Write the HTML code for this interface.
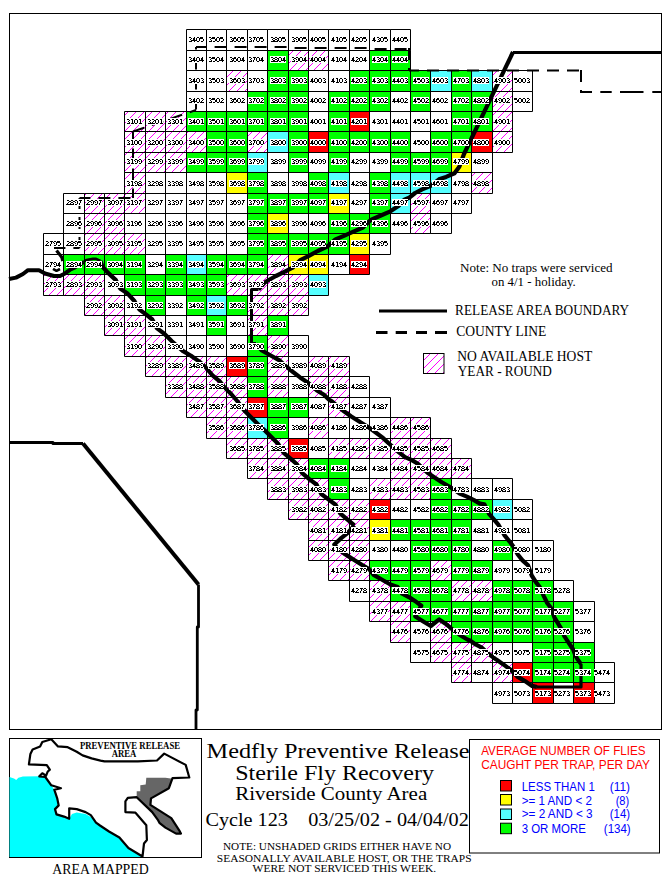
<!DOCTYPE html>
<html><head><meta charset="utf-8"><title>Medfly Preventive Release - Sterile Fly Recovery</title>
<style>html,body{margin:0;padding:0;background:#fff}body{width:670px;height:888px;position:relative;overflow:hidden}</style>
</head><body>
<svg width="670" height="888" viewBox="0 0 670 888" style="position:absolute;left:0;top:0">
<defs>
<pattern id="hatch" patternUnits="userSpaceOnUse" width="8" height="8">
<rect width="8" height="8" fill="#fff"/>
<path d="M0 7h1v1h-1zM1 6h1v1h-1zM2 5h1v1h-1zM3 4h1v1h-1zM4 3h1v1h-1zM5 2h1v1h-1zM6 1h1v1h-1zM7 0h1v1h-1z" fill="#ff00ff" shape-rendering="crispEdges"/>
</pattern>
<filter id="crisp" filterUnits="userSpaceOnUse" x="0" y="0" width="670" height="888" color-interpolation-filters="sRGB">
<feComponentTransfer><feFuncA type="discrete" tableValues="0 1 1"/></feComponentTransfer>
</filter>
</defs>
<rect x="9.5" y="13.5" width="652" height="716" fill="none" stroke="#000"/>
<rect x="186" y="29" width="20" height="21" fill="#fff"/>
<rect x="206" y="29" width="20" height="21" fill="#fff"/>
<rect x="226" y="29" width="21" height="21" fill="#fff"/>
<rect x="247" y="29" width="20" height="21" fill="#fff"/>
<rect x="267" y="29" width="21" height="21" fill="#fff"/>
<rect x="288" y="29" width="20" height="21" fill="#fff"/>
<rect x="308" y="29" width="20" height="21" fill="#fff"/>
<rect x="328" y="29" width="21" height="21" fill="#fff"/>
<rect x="349" y="29" width="20" height="21" fill="#fff"/>
<rect x="369" y="29" width="21" height="21" fill="#fff"/>
<rect x="390" y="29" width="20" height="21" fill="#fff"/>
<rect x="186" y="50" width="20" height="20" fill="#fff"/>
<rect x="206" y="50" width="20" height="20" fill="#fff"/>
<rect x="226" y="50" width="21" height="20" fill="#fff"/>
<rect x="247" y="50" width="20" height="20" fill="#fff"/>
<rect x="267" y="50" width="21" height="20" fill="#00ff00"/>
<rect x="288" y="50" width="20" height="20" fill="url(#hatch)"/>
<rect x="308" y="50" width="20" height="20" fill="url(#hatch)"/>
<rect x="328" y="50" width="21" height="20" fill="#fff"/>
<rect x="349" y="50" width="20" height="20" fill="#fff"/>
<rect x="369" y="50" width="21" height="20" fill="#00ff00"/>
<rect x="390" y="50" width="20" height="20" fill="#00ff00"/>
<rect x="186" y="70" width="20" height="21" fill="#fff"/>
<rect x="206" y="70" width="20" height="21" fill="#fff"/>
<rect x="226" y="70" width="21" height="21" fill="url(#hatch)"/>
<rect x="247" y="70" width="20" height="21" fill="#fff"/>
<rect x="267" y="70" width="21" height="21" fill="#00ff00"/>
<rect x="288" y="70" width="20" height="21" fill="#00ff00"/>
<rect x="308" y="70" width="20" height="21" fill="#fff"/>
<rect x="328" y="70" width="21" height="21" fill="#fff"/>
<rect x="349" y="70" width="20" height="21" fill="#00ff00"/>
<rect x="369" y="70" width="21" height="21" fill="#00ff00"/>
<rect x="390" y="70" width="20" height="21" fill="#00ff00"/>
<rect x="410" y="70" width="20" height="21" fill="#00ff00"/>
<rect x="430" y="70" width="21" height="21" fill="#55ffff"/>
<rect x="451" y="70" width="20" height="21" fill="#00ff00"/>
<rect x="471" y="70" width="21" height="21" fill="#55ffff"/>
<rect x="492" y="70" width="20" height="21" fill="url(#hatch)"/>
<rect x="512" y="70" width="20" height="21" fill="#fff"/>
<rect x="186" y="91" width="20" height="20" fill="#fff"/>
<rect x="206" y="91" width="20" height="20" fill="#fff"/>
<rect x="226" y="91" width="21" height="20" fill="#fff"/>
<rect x="247" y="91" width="20" height="20" fill="#00ff00"/>
<rect x="267" y="91" width="21" height="20" fill="#00ff00"/>
<rect x="288" y="91" width="20" height="20" fill="#00ff00"/>
<rect x="308" y="91" width="20" height="20" fill="#fff"/>
<rect x="328" y="91" width="21" height="20" fill="#00ff00"/>
<rect x="349" y="91" width="20" height="20" fill="#00ff00"/>
<rect x="369" y="91" width="21" height="20" fill="#00ff00"/>
<rect x="390" y="91" width="20" height="20" fill="#fff"/>
<rect x="410" y="91" width="20" height="20" fill="#00ff00"/>
<rect x="430" y="91" width="21" height="20" fill="#fff"/>
<rect x="451" y="91" width="20" height="20" fill="#00ff00"/>
<rect x="471" y="91" width="21" height="20" fill="#00ff00"/>
<rect x="492" y="91" width="20" height="20" fill="url(#hatch)"/>
<rect x="512" y="91" width="20" height="20" fill="#fff"/>
<rect x="124" y="111" width="21" height="20" fill="url(#hatch)"/>
<rect x="145" y="111" width="20" height="20" fill="url(#hatch)"/>
<rect x="165" y="111" width="21" height="20" fill="url(#hatch)"/>
<rect x="186" y="111" width="20" height="20" fill="#00ff00"/>
<rect x="206" y="111" width="20" height="20" fill="#00ff00"/>
<rect x="226" y="111" width="21" height="20" fill="#00ff00"/>
<rect x="247" y="111" width="20" height="20" fill="#00ff00"/>
<rect x="267" y="111" width="21" height="20" fill="#00ff00"/>
<rect x="288" y="111" width="20" height="20" fill="#00ff00"/>
<rect x="308" y="111" width="20" height="20" fill="#fff"/>
<rect x="328" y="111" width="21" height="20" fill="#00ff00"/>
<rect x="349" y="111" width="20" height="20" fill="#ff0000"/>
<rect x="369" y="111" width="21" height="20" fill="#fff"/>
<rect x="390" y="111" width="20" height="20" fill="#fff"/>
<rect x="410" y="111" width="20" height="20" fill="#fff"/>
<rect x="430" y="111" width="21" height="20" fill="#fff"/>
<rect x="451" y="111" width="20" height="20" fill="#00ff00"/>
<rect x="471" y="111" width="21" height="20" fill="#00ff00"/>
<rect x="492" y="111" width="20" height="20" fill="url(#hatch)"/>
<rect x="124" y="131" width="21" height="21" fill="url(#hatch)"/>
<rect x="145" y="131" width="20" height="21" fill="url(#hatch)"/>
<rect x="165" y="131" width="21" height="21" fill="url(#hatch)"/>
<rect x="186" y="131" width="20" height="21" fill="url(#hatch)"/>
<rect x="206" y="131" width="20" height="21" fill="#00ff00"/>
<rect x="226" y="131" width="21" height="21" fill="#00ff00"/>
<rect x="247" y="131" width="20" height="21" fill="url(#hatch)"/>
<rect x="267" y="131" width="21" height="21" fill="#55ffff"/>
<rect x="288" y="131" width="20" height="21" fill="#00ff00"/>
<rect x="308" y="131" width="20" height="21" fill="#ff0000"/>
<rect x="328" y="131" width="21" height="21" fill="#00ff00"/>
<rect x="349" y="131" width="20" height="21" fill="#00ff00"/>
<rect x="369" y="131" width="21" height="21" fill="#00ff00"/>
<rect x="390" y="131" width="20" height="21" fill="#00ff00"/>
<rect x="410" y="131" width="20" height="21" fill="#fff"/>
<rect x="430" y="131" width="21" height="21" fill="#00ff00"/>
<rect x="451" y="131" width="20" height="21" fill="#00ff00"/>
<rect x="471" y="131" width="21" height="21" fill="#ff0000"/>
<rect x="492" y="131" width="20" height="21" fill="url(#hatch)"/>
<rect x="124" y="152" width="21" height="20" fill="url(#hatch)"/>
<rect x="145" y="152" width="20" height="20" fill="url(#hatch)"/>
<rect x="165" y="152" width="21" height="20" fill="url(#hatch)"/>
<rect x="186" y="152" width="20" height="20" fill="#00ff00"/>
<rect x="206" y="152" width="20" height="20" fill="#00ff00"/>
<rect x="226" y="152" width="21" height="20" fill="#00ff00"/>
<rect x="247" y="152" width="20" height="20" fill="#55ffff"/>
<rect x="267" y="152" width="21" height="20" fill="#fff"/>
<rect x="288" y="152" width="20" height="20" fill="#00ff00"/>
<rect x="308" y="152" width="20" height="20" fill="#fff"/>
<rect x="328" y="152" width="21" height="20" fill="#00ff00"/>
<rect x="349" y="152" width="20" height="20" fill="#fff"/>
<rect x="369" y="152" width="21" height="20" fill="#fff"/>
<rect x="390" y="152" width="20" height="20" fill="#00ff00"/>
<rect x="410" y="152" width="20" height="20" fill="#00ff00"/>
<rect x="430" y="152" width="21" height="20" fill="#00ff00"/>
<rect x="451" y="152" width="20" height="20" fill="#ffff00"/>
<rect x="471" y="152" width="21" height="20" fill="#fff"/>
<rect x="124" y="172" width="21" height="21" fill="url(#hatch)"/>
<rect x="145" y="172" width="20" height="21" fill="#fff"/>
<rect x="165" y="172" width="21" height="21" fill="#fff"/>
<rect x="186" y="172" width="20" height="21" fill="#fff"/>
<rect x="206" y="172" width="20" height="21" fill="#fff"/>
<rect x="226" y="172" width="21" height="21" fill="#ffff00"/>
<rect x="247" y="172" width="20" height="21" fill="#00ff00"/>
<rect x="267" y="172" width="21" height="21" fill="#fff"/>
<rect x="288" y="172" width="20" height="21" fill="#fff"/>
<rect x="308" y="172" width="20" height="21" fill="#00ff00"/>
<rect x="328" y="172" width="21" height="21" fill="#55ffff"/>
<rect x="349" y="172" width="20" height="21" fill="#fff"/>
<rect x="369" y="172" width="21" height="21" fill="#00ff00"/>
<rect x="390" y="172" width="20" height="21" fill="#55ffff"/>
<rect x="410" y="172" width="20" height="21" fill="#55ffff"/>
<rect x="430" y="172" width="21" height="21" fill="#55ffff"/>
<rect x="451" y="172" width="20" height="21" fill="#fff"/>
<rect x="471" y="172" width="21" height="21" fill="url(#hatch)"/>
<rect x="63" y="193" width="21" height="20" fill="#fff"/>
<rect x="84" y="193" width="20" height="20" fill="url(#hatch)"/>
<rect x="104" y="193" width="20" height="20" fill="url(#hatch)"/>
<rect x="124" y="193" width="21" height="20" fill="url(#hatch)"/>
<rect x="145" y="193" width="20" height="20" fill="#fff"/>
<rect x="165" y="193" width="21" height="20" fill="#fff"/>
<rect x="186" y="193" width="20" height="20" fill="#fff"/>
<rect x="206" y="193" width="20" height="20" fill="#fff"/>
<rect x="226" y="193" width="21" height="20" fill="#fff"/>
<rect x="247" y="193" width="20" height="20" fill="#00ff00"/>
<rect x="267" y="193" width="21" height="20" fill="#00ff00"/>
<rect x="288" y="193" width="20" height="20" fill="#00ff00"/>
<rect x="308" y="193" width="20" height="20" fill="#00ff00"/>
<rect x="328" y="193" width="21" height="20" fill="#ffff00"/>
<rect x="349" y="193" width="20" height="20" fill="#fff"/>
<rect x="369" y="193" width="21" height="20" fill="#00ff00"/>
<rect x="390" y="193" width="20" height="20" fill="#55ffff"/>
<rect x="410" y="193" width="20" height="20" fill="url(#hatch)"/>
<rect x="430" y="193" width="21" height="20" fill="#fff"/>
<rect x="451" y="193" width="20" height="20" fill="#fff"/>
<rect x="63" y="213" width="21" height="20" fill="#fff"/>
<rect x="84" y="213" width="20" height="20" fill="url(#hatch)"/>
<rect x="104" y="213" width="20" height="20" fill="url(#hatch)"/>
<rect x="124" y="213" width="21" height="20" fill="#fff"/>
<rect x="145" y="213" width="20" height="20" fill="#fff"/>
<rect x="165" y="213" width="21" height="20" fill="#fff"/>
<rect x="186" y="213" width="20" height="20" fill="#fff"/>
<rect x="206" y="213" width="20" height="20" fill="#fff"/>
<rect x="226" y="213" width="21" height="20" fill="#fff"/>
<rect x="247" y="213" width="20" height="20" fill="#00ff00"/>
<rect x="267" y="213" width="21" height="20" fill="#ffff00"/>
<rect x="288" y="213" width="20" height="20" fill="#fff"/>
<rect x="308" y="213" width="20" height="20" fill="#fff"/>
<rect x="328" y="213" width="21" height="20" fill="#00ff00"/>
<rect x="349" y="213" width="20" height="20" fill="#00ff00"/>
<rect x="369" y="213" width="21" height="20" fill="#00ff00"/>
<rect x="390" y="213" width="20" height="20" fill="#fff"/>
<rect x="410" y="213" width="20" height="20" fill="url(#hatch)"/>
<rect x="430" y="213" width="21" height="20" fill="#fff"/>
<rect x="43" y="233" width="20" height="21" fill="#fff"/>
<rect x="63" y="233" width="21" height="21" fill="#fff"/>
<rect x="84" y="233" width="20" height="21" fill="url(#hatch)"/>
<rect x="104" y="233" width="20" height="21" fill="url(#hatch)"/>
<rect x="124" y="233" width="21" height="21" fill="url(#hatch)"/>
<rect x="145" y="233" width="20" height="21" fill="#fff"/>
<rect x="165" y="233" width="21" height="21" fill="#fff"/>
<rect x="186" y="233" width="20" height="21" fill="#fff"/>
<rect x="206" y="233" width="20" height="21" fill="#fff"/>
<rect x="226" y="233" width="21" height="21" fill="#fff"/>
<rect x="247" y="233" width="20" height="21" fill="#00ff00"/>
<rect x="267" y="233" width="21" height="21" fill="#00ff00"/>
<rect x="288" y="233" width="20" height="21" fill="#00ff00"/>
<rect x="308" y="233" width="20" height="21" fill="#00ff00"/>
<rect x="328" y="233" width="21" height="21" fill="#00ff00"/>
<rect x="349" y="233" width="20" height="21" fill="#ffff00"/>
<rect x="369" y="233" width="21" height="21" fill="#fff"/>
<rect x="43" y="254" width="20" height="20" fill="#fff"/>
<rect x="63" y="254" width="21" height="20" fill="#00ff00"/>
<rect x="84" y="254" width="20" height="20" fill="#00ff00"/>
<rect x="104" y="254" width="20" height="20" fill="#00ff00"/>
<rect x="124" y="254" width="21" height="20" fill="#00ff00"/>
<rect x="145" y="254" width="20" height="20" fill="#fff"/>
<rect x="165" y="254" width="21" height="20" fill="#00ff00"/>
<rect x="186" y="254" width="20" height="20" fill="#55ffff"/>
<rect x="206" y="254" width="20" height="20" fill="#00ff00"/>
<rect x="226" y="254" width="21" height="20" fill="#00ff00"/>
<rect x="247" y="254" width="20" height="20" fill="#00ff00"/>
<rect x="267" y="254" width="21" height="20" fill="url(#hatch)"/>
<rect x="288" y="254" width="20" height="20" fill="#ffff00"/>
<rect x="308" y="254" width="20" height="20" fill="#ffff00"/>
<rect x="328" y="254" width="21" height="20" fill="#fff"/>
<rect x="349" y="254" width="20" height="20" fill="#ff0000"/>
<rect x="43" y="274" width="20" height="21" fill="url(#hatch)"/>
<rect x="63" y="274" width="21" height="21" fill="url(#hatch)"/>
<rect x="84" y="274" width="20" height="21" fill="url(#hatch)"/>
<rect x="104" y="274" width="20" height="21" fill="#fff"/>
<rect x="124" y="274" width="21" height="21" fill="#00ff00"/>
<rect x="145" y="274" width="20" height="21" fill="#00ff00"/>
<rect x="165" y="274" width="21" height="21" fill="#00ff00"/>
<rect x="186" y="274" width="20" height="21" fill="#00ff00"/>
<rect x="206" y="274" width="20" height="21" fill="#00ff00"/>
<rect x="226" y="274" width="21" height="21" fill="url(#hatch)"/>
<rect x="247" y="274" width="20" height="21" fill="url(#hatch)"/>
<rect x="267" y="274" width="21" height="21" fill="url(#hatch)"/>
<rect x="288" y="274" width="20" height="21" fill="url(#hatch)"/>
<rect x="308" y="274" width="20" height="21" fill="#55ffff"/>
<rect x="84" y="295" width="20" height="20" fill="url(#hatch)"/>
<rect x="104" y="295" width="20" height="20" fill="url(#hatch)"/>
<rect x="124" y="295" width="21" height="20" fill="#fff"/>
<rect x="145" y="295" width="20" height="20" fill="#00ff00"/>
<rect x="165" y="295" width="21" height="20" fill="#fff"/>
<rect x="186" y="295" width="20" height="20" fill="#00ff00"/>
<rect x="206" y="295" width="20" height="20" fill="#55ffff"/>
<rect x="226" y="295" width="21" height="20" fill="#00ff00"/>
<rect x="247" y="295" width="20" height="20" fill="url(#hatch)"/>
<rect x="267" y="295" width="21" height="20" fill="url(#hatch)"/>
<rect x="288" y="295" width="20" height="20" fill="url(#hatch)"/>
<rect x="104" y="315" width="20" height="20" fill="url(#hatch)"/>
<rect x="124" y="315" width="21" height="20" fill="url(#hatch)"/>
<rect x="145" y="315" width="20" height="20" fill="#fff"/>
<rect x="165" y="315" width="21" height="20" fill="#fff"/>
<rect x="186" y="315" width="20" height="20" fill="#fff"/>
<rect x="206" y="315" width="20" height="20" fill="#00ff00"/>
<rect x="226" y="315" width="21" height="20" fill="#fff"/>
<rect x="247" y="315" width="20" height="20" fill="url(#hatch)"/>
<rect x="267" y="315" width="21" height="20" fill="#00ff00"/>
<rect x="124" y="335" width="21" height="21" fill="url(#hatch)"/>
<rect x="145" y="335" width="20" height="21" fill="url(#hatch)"/>
<rect x="165" y="335" width="21" height="21" fill="#fff"/>
<rect x="186" y="335" width="20" height="21" fill="#fff"/>
<rect x="206" y="335" width="20" height="21" fill="#fff"/>
<rect x="226" y="335" width="21" height="21" fill="#fff"/>
<rect x="247" y="335" width="20" height="21" fill="#00ff00"/>
<rect x="267" y="335" width="21" height="21" fill="url(#hatch)"/>
<rect x="288" y="335" width="20" height="21" fill="#fff"/>
<rect x="145" y="356" width="20" height="20" fill="url(#hatch)"/>
<rect x="165" y="356" width="21" height="20" fill="url(#hatch)"/>
<rect x="186" y="356" width="20" height="20" fill="url(#hatch)"/>
<rect x="206" y="356" width="20" height="20" fill="url(#hatch)"/>
<rect x="226" y="356" width="21" height="20" fill="#ff0000"/>
<rect x="247" y="356" width="20" height="20" fill="#00ff00"/>
<rect x="267" y="356" width="21" height="20" fill="url(#hatch)"/>
<rect x="288" y="356" width="20" height="20" fill="#fff"/>
<rect x="308" y="356" width="20" height="20" fill="url(#hatch)"/>
<rect x="328" y="356" width="21" height="20" fill="url(#hatch)"/>
<rect x="165" y="376" width="21" height="21" fill="url(#hatch)"/>
<rect x="186" y="376" width="20" height="21" fill="url(#hatch)"/>
<rect x="206" y="376" width="20" height="21" fill="url(#hatch)"/>
<rect x="226" y="376" width="21" height="21" fill="url(#hatch)"/>
<rect x="247" y="376" width="20" height="21" fill="#00ff00"/>
<rect x="267" y="376" width="21" height="21" fill="url(#hatch)"/>
<rect x="288" y="376" width="20" height="21" fill="#fff"/>
<rect x="308" y="376" width="20" height="21" fill="url(#hatch)"/>
<rect x="328" y="376" width="21" height="21" fill="url(#hatch)"/>
<rect x="349" y="376" width="20" height="21" fill="#fff"/>
<rect x="186" y="397" width="20" height="20" fill="url(#hatch)"/>
<rect x="206" y="397" width="20" height="20" fill="url(#hatch)"/>
<rect x="226" y="397" width="21" height="20" fill="url(#hatch)"/>
<rect x="247" y="397" width="20" height="20" fill="#ff0000"/>
<rect x="267" y="397" width="21" height="20" fill="#00ff00"/>
<rect x="288" y="397" width="20" height="20" fill="#00ff00"/>
<rect x="308" y="397" width="20" height="20" fill="#fff"/>
<rect x="328" y="397" width="21" height="20" fill="url(#hatch)"/>
<rect x="349" y="397" width="20" height="20" fill="#fff"/>
<rect x="369" y="397" width="21" height="20" fill="#fff"/>
<rect x="206" y="417" width="20" height="21" fill="url(#hatch)"/>
<rect x="226" y="417" width="21" height="21" fill="url(#hatch)"/>
<rect x="247" y="417" width="20" height="21" fill="#55ffff"/>
<rect x="267" y="417" width="21" height="21" fill="#00ff00"/>
<rect x="288" y="417" width="20" height="21" fill="#fff"/>
<rect x="308" y="417" width="20" height="21" fill="url(#hatch)"/>
<rect x="328" y="417" width="21" height="21" fill="#fff"/>
<rect x="349" y="417" width="20" height="21" fill="#fff"/>
<rect x="369" y="417" width="21" height="21" fill="#fff"/>
<rect x="390" y="417" width="20" height="21" fill="url(#hatch)"/>
<rect x="410" y="417" width="20" height="21" fill="url(#hatch)"/>
<rect x="226" y="438" width="21" height="20" fill="url(#hatch)"/>
<rect x="247" y="438" width="20" height="20" fill="url(#hatch)"/>
<rect x="267" y="438" width="21" height="20" fill="url(#hatch)"/>
<rect x="288" y="438" width="20" height="20" fill="#ff0000"/>
<rect x="308" y="438" width="20" height="20" fill="#fff"/>
<rect x="328" y="438" width="21" height="20" fill="url(#hatch)"/>
<rect x="349" y="438" width="20" height="20" fill="url(#hatch)"/>
<rect x="369" y="438" width="21" height="20" fill="url(#hatch)"/>
<rect x="390" y="438" width="20" height="20" fill="url(#hatch)"/>
<rect x="410" y="438" width="20" height="20" fill="url(#hatch)"/>
<rect x="430" y="438" width="21" height="20" fill="url(#hatch)"/>
<rect x="247" y="458" width="20" height="20" fill="url(#hatch)"/>
<rect x="267" y="458" width="21" height="20" fill="url(#hatch)"/>
<rect x="288" y="458" width="20" height="20" fill="url(#hatch)"/>
<rect x="308" y="458" width="20" height="20" fill="#00ff00"/>
<rect x="328" y="458" width="21" height="20" fill="#00ff00"/>
<rect x="349" y="458" width="20" height="20" fill="#fff"/>
<rect x="369" y="458" width="21" height="20" fill="#fff"/>
<rect x="390" y="458" width="20" height="20" fill="url(#hatch)"/>
<rect x="410" y="458" width="20" height="20" fill="url(#hatch)"/>
<rect x="430" y="458" width="21" height="20" fill="url(#hatch)"/>
<rect x="451" y="458" width="20" height="20" fill="url(#hatch)"/>
<rect x="267" y="478" width="21" height="21" fill="url(#hatch)"/>
<rect x="288" y="478" width="20" height="21" fill="url(#hatch)"/>
<rect x="308" y="478" width="20" height="21" fill="url(#hatch)"/>
<rect x="328" y="478" width="21" height="21" fill="#00ff00"/>
<rect x="349" y="478" width="20" height="21" fill="#fff"/>
<rect x="369" y="478" width="21" height="21" fill="url(#hatch)"/>
<rect x="390" y="478" width="20" height="21" fill="url(#hatch)"/>
<rect x="410" y="478" width="20" height="21" fill="url(#hatch)"/>
<rect x="430" y="478" width="21" height="21" fill="#00ff00"/>
<rect x="451" y="478" width="20" height="21" fill="#fff"/>
<rect x="471" y="478" width="21" height="21" fill="#fff"/>
<rect x="492" y="478" width="20" height="21" fill="#fff"/>
<rect x="288" y="499" width="20" height="20" fill="url(#hatch)"/>
<rect x="308" y="499" width="20" height="20" fill="url(#hatch)"/>
<rect x="328" y="499" width="21" height="20" fill="url(#hatch)"/>
<rect x="349" y="499" width="20" height="20" fill="url(#hatch)"/>
<rect x="369" y="499" width="21" height="20" fill="#ff0000"/>
<rect x="390" y="499" width="20" height="20" fill="#fff"/>
<rect x="410" y="499" width="20" height="20" fill="#fff"/>
<rect x="430" y="499" width="21" height="20" fill="#00ff00"/>
<rect x="451" y="499" width="20" height="20" fill="#00ff00"/>
<rect x="471" y="499" width="21" height="20" fill="#00ff00"/>
<rect x="492" y="499" width="20" height="20" fill="#55ffff"/>
<rect x="512" y="499" width="20" height="20" fill="#fff"/>
<rect x="308" y="519" width="20" height="21" fill="url(#hatch)"/>
<rect x="328" y="519" width="21" height="21" fill="url(#hatch)"/>
<rect x="349" y="519" width="20" height="21" fill="url(#hatch)"/>
<rect x="369" y="519" width="21" height="21" fill="#ffff00"/>
<rect x="390" y="519" width="20" height="21" fill="#00ff00"/>
<rect x="410" y="519" width="20" height="21" fill="#00ff00"/>
<rect x="430" y="519" width="21" height="21" fill="#00ff00"/>
<rect x="451" y="519" width="20" height="21" fill="#00ff00"/>
<rect x="471" y="519" width="21" height="21" fill="#fff"/>
<rect x="492" y="519" width="20" height="21" fill="#fff"/>
<rect x="512" y="519" width="20" height="21" fill="#fff"/>
<rect x="308" y="540" width="20" height="20" fill="url(#hatch)"/>
<rect x="328" y="540" width="21" height="20" fill="url(#hatch)"/>
<rect x="349" y="540" width="20" height="20" fill="url(#hatch)"/>
<rect x="369" y="540" width="21" height="20" fill="#fff"/>
<rect x="390" y="540" width="20" height="20" fill="#fff"/>
<rect x="410" y="540" width="20" height="20" fill="#00ff00"/>
<rect x="430" y="540" width="21" height="20" fill="#00ff00"/>
<rect x="451" y="540" width="20" height="20" fill="#00ff00"/>
<rect x="471" y="540" width="21" height="20" fill="#fff"/>
<rect x="492" y="540" width="20" height="20" fill="#00ff00"/>
<rect x="512" y="540" width="20" height="20" fill="#fff"/>
<rect x="532" y="540" width="21" height="20" fill="#fff"/>
<rect x="328" y="560" width="21" height="20" fill="url(#hatch)"/>
<rect x="349" y="560" width="20" height="20" fill="url(#hatch)"/>
<rect x="369" y="560" width="21" height="20" fill="#00ff00"/>
<rect x="390" y="560" width="20" height="20" fill="#00ff00"/>
<rect x="410" y="560" width="20" height="20" fill="#00ff00"/>
<rect x="430" y="560" width="21" height="20" fill="url(#hatch)"/>
<rect x="451" y="560" width="20" height="20" fill="#00ff00"/>
<rect x="471" y="560" width="21" height="20" fill="#00ff00"/>
<rect x="492" y="560" width="20" height="20" fill="#fff"/>
<rect x="512" y="560" width="20" height="20" fill="#fff"/>
<rect x="532" y="560" width="21" height="20" fill="#fff"/>
<rect x="349" y="580" width="20" height="21" fill="#fff"/>
<rect x="369" y="580" width="21" height="21" fill="url(#hatch)"/>
<rect x="390" y="580" width="20" height="21" fill="#00ff00"/>
<rect x="410" y="580" width="20" height="21" fill="#00ff00"/>
<rect x="430" y="580" width="21" height="21" fill="#00ff00"/>
<rect x="451" y="580" width="20" height="21" fill="url(#hatch)"/>
<rect x="471" y="580" width="21" height="21" fill="url(#hatch)"/>
<rect x="492" y="580" width="20" height="21" fill="#00ff00"/>
<rect x="512" y="580" width="20" height="21" fill="#00ff00"/>
<rect x="532" y="580" width="21" height="21" fill="#00ff00"/>
<rect x="553" y="580" width="20" height="21" fill="#fff"/>
<rect x="369" y="601" width="21" height="20" fill="url(#hatch)"/>
<rect x="390" y="601" width="20" height="20" fill="url(#hatch)"/>
<rect x="410" y="601" width="20" height="20" fill="#00ff00"/>
<rect x="430" y="601" width="21" height="20" fill="#00ff00"/>
<rect x="451" y="601" width="20" height="20" fill="#00ff00"/>
<rect x="471" y="601" width="21" height="20" fill="#00ff00"/>
<rect x="492" y="601" width="20" height="20" fill="#00ff00"/>
<rect x="512" y="601" width="20" height="20" fill="#00ff00"/>
<rect x="532" y="601" width="21" height="20" fill="#00ff00"/>
<rect x="553" y="601" width="20" height="20" fill="#00ff00"/>
<rect x="573" y="601" width="21" height="20" fill="#fff"/>
<rect x="390" y="621" width="20" height="21" fill="url(#hatch)"/>
<rect x="410" y="621" width="20" height="21" fill="#fff"/>
<rect x="430" y="621" width="21" height="21" fill="url(#hatch)"/>
<rect x="451" y="621" width="20" height="21" fill="#00ff00"/>
<rect x="471" y="621" width="21" height="21" fill="#00ff00"/>
<rect x="492" y="621" width="20" height="21" fill="#00ff00"/>
<rect x="512" y="621" width="20" height="21" fill="#00ff00"/>
<rect x="532" y="621" width="21" height="21" fill="#00ff00"/>
<rect x="553" y="621" width="20" height="21" fill="#00ff00"/>
<rect x="573" y="621" width="21" height="21" fill="#fff"/>
<rect x="410" y="642" width="20" height="20" fill="#fff"/>
<rect x="430" y="642" width="21" height="20" fill="url(#hatch)"/>
<rect x="451" y="642" width="20" height="20" fill="url(#hatch)"/>
<rect x="471" y="642" width="21" height="20" fill="url(#hatch)"/>
<rect x="492" y="642" width="20" height="20" fill="#fff"/>
<rect x="512" y="642" width="20" height="20" fill="#fff"/>
<rect x="532" y="642" width="21" height="20" fill="#00ff00"/>
<rect x="553" y="642" width="20" height="20" fill="#00ff00"/>
<rect x="573" y="642" width="21" height="20" fill="#00ff00"/>
<rect x="451" y="662" width="20" height="20" fill="url(#hatch)"/>
<rect x="471" y="662" width="21" height="20" fill="#fff"/>
<rect x="492" y="662" width="20" height="20" fill="url(#hatch)"/>
<rect x="512" y="662" width="20" height="20" fill="#ff0000"/>
<rect x="532" y="662" width="21" height="20" fill="#00ff00"/>
<rect x="553" y="662" width="20" height="20" fill="#00ff00"/>
<rect x="573" y="662" width="21" height="20" fill="#00ff00"/>
<rect x="594" y="662" width="20" height="20" fill="#fff"/>
<rect x="492" y="682" width="20" height="21" fill="#fff"/>
<rect x="512" y="682" width="20" height="21" fill="#fff"/>
<rect x="532" y="682" width="21" height="21" fill="#ff0000"/>
<rect x="553" y="682" width="20" height="21" fill="#fff"/>
<rect x="573" y="682" width="21" height="21" fill="#ff0000"/>
<rect x="594" y="682" width="20" height="21" fill="#fff"/>
<path d="M186.5 29.5H206.5V50.5H186.5ZM206.5 29.5H226.5V50.5H206.5ZM226.5 29.5H247.5V50.5H226.5ZM247.5 29.5H267.5V50.5H247.5ZM267.5 29.5H288.5V50.5H267.5ZM288.5 29.5H308.5V50.5H288.5ZM308.5 29.5H328.5V50.5H308.5ZM328.5 29.5H349.5V50.5H328.5ZM349.5 29.5H369.5V50.5H349.5ZM369.5 29.5H390.5V50.5H369.5ZM390.5 29.5H410.5V50.5H390.5ZM186.5 50.5H206.5V70.5H186.5ZM206.5 50.5H226.5V70.5H206.5ZM226.5 50.5H247.5V70.5H226.5ZM247.5 50.5H267.5V70.5H247.5ZM267.5 50.5H288.5V70.5H267.5ZM288.5 50.5H308.5V70.5H288.5ZM308.5 50.5H328.5V70.5H308.5ZM328.5 50.5H349.5V70.5H328.5ZM349.5 50.5H369.5V70.5H349.5ZM369.5 50.5H390.5V70.5H369.5ZM390.5 50.5H410.5V70.5H390.5ZM186.5 70.5H206.5V91.5H186.5ZM206.5 70.5H226.5V91.5H206.5ZM226.5 70.5H247.5V91.5H226.5ZM247.5 70.5H267.5V91.5H247.5ZM267.5 70.5H288.5V91.5H267.5ZM288.5 70.5H308.5V91.5H288.5ZM308.5 70.5H328.5V91.5H308.5ZM328.5 70.5H349.5V91.5H328.5ZM349.5 70.5H369.5V91.5H349.5ZM369.5 70.5H390.5V91.5H369.5ZM390.5 70.5H410.5V91.5H390.5ZM410.5 70.5H430.5V91.5H410.5ZM430.5 70.5H451.5V91.5H430.5ZM451.5 70.5H471.5V91.5H451.5ZM471.5 70.5H492.5V91.5H471.5ZM492.5 70.5H512.5V91.5H492.5ZM512.5 70.5H532.5V91.5H512.5ZM186.5 91.5H206.5V111.5H186.5ZM206.5 91.5H226.5V111.5H206.5ZM226.5 91.5H247.5V111.5H226.5ZM247.5 91.5H267.5V111.5H247.5ZM267.5 91.5H288.5V111.5H267.5ZM288.5 91.5H308.5V111.5H288.5ZM308.5 91.5H328.5V111.5H308.5ZM328.5 91.5H349.5V111.5H328.5ZM349.5 91.5H369.5V111.5H349.5ZM369.5 91.5H390.5V111.5H369.5ZM390.5 91.5H410.5V111.5H390.5ZM410.5 91.5H430.5V111.5H410.5ZM430.5 91.5H451.5V111.5H430.5ZM451.5 91.5H471.5V111.5H451.5ZM471.5 91.5H492.5V111.5H471.5ZM492.5 91.5H512.5V111.5H492.5ZM512.5 91.5H532.5V111.5H512.5ZM124.5 111.5H145.5V131.5H124.5ZM145.5 111.5H165.5V131.5H145.5ZM165.5 111.5H186.5V131.5H165.5ZM186.5 111.5H206.5V131.5H186.5ZM206.5 111.5H226.5V131.5H206.5ZM226.5 111.5H247.5V131.5H226.5ZM247.5 111.5H267.5V131.5H247.5ZM267.5 111.5H288.5V131.5H267.5ZM288.5 111.5H308.5V131.5H288.5ZM308.5 111.5H328.5V131.5H308.5ZM328.5 111.5H349.5V131.5H328.5ZM349.5 111.5H369.5V131.5H349.5ZM369.5 111.5H390.5V131.5H369.5ZM390.5 111.5H410.5V131.5H390.5ZM410.5 111.5H430.5V131.5H410.5ZM430.5 111.5H451.5V131.5H430.5ZM451.5 111.5H471.5V131.5H451.5ZM471.5 111.5H492.5V131.5H471.5ZM492.5 111.5H512.5V131.5H492.5ZM124.5 131.5H145.5V152.5H124.5ZM145.5 131.5H165.5V152.5H145.5ZM165.5 131.5H186.5V152.5H165.5ZM186.5 131.5H206.5V152.5H186.5ZM206.5 131.5H226.5V152.5H206.5ZM226.5 131.5H247.5V152.5H226.5ZM247.5 131.5H267.5V152.5H247.5ZM267.5 131.5H288.5V152.5H267.5ZM288.5 131.5H308.5V152.5H288.5ZM308.5 131.5H328.5V152.5H308.5ZM328.5 131.5H349.5V152.5H328.5ZM349.5 131.5H369.5V152.5H349.5ZM369.5 131.5H390.5V152.5H369.5ZM390.5 131.5H410.5V152.5H390.5ZM410.5 131.5H430.5V152.5H410.5ZM430.5 131.5H451.5V152.5H430.5ZM451.5 131.5H471.5V152.5H451.5ZM471.5 131.5H492.5V152.5H471.5ZM492.5 131.5H512.5V152.5H492.5ZM124.5 152.5H145.5V172.5H124.5ZM145.5 152.5H165.5V172.5H145.5ZM165.5 152.5H186.5V172.5H165.5ZM186.5 152.5H206.5V172.5H186.5ZM206.5 152.5H226.5V172.5H206.5ZM226.5 152.5H247.5V172.5H226.5ZM247.5 152.5H267.5V172.5H247.5ZM267.5 152.5H288.5V172.5H267.5ZM288.5 152.5H308.5V172.5H288.5ZM308.5 152.5H328.5V172.5H308.5ZM328.5 152.5H349.5V172.5H328.5ZM349.5 152.5H369.5V172.5H349.5ZM369.5 152.5H390.5V172.5H369.5ZM390.5 152.5H410.5V172.5H390.5ZM410.5 152.5H430.5V172.5H410.5ZM430.5 152.5H451.5V172.5H430.5ZM451.5 152.5H471.5V172.5H451.5ZM471.5 152.5H492.5V172.5H471.5ZM124.5 172.5H145.5V193.5H124.5ZM145.5 172.5H165.5V193.5H145.5ZM165.5 172.5H186.5V193.5H165.5ZM186.5 172.5H206.5V193.5H186.5ZM206.5 172.5H226.5V193.5H206.5ZM226.5 172.5H247.5V193.5H226.5ZM247.5 172.5H267.5V193.5H247.5ZM267.5 172.5H288.5V193.5H267.5ZM288.5 172.5H308.5V193.5H288.5ZM308.5 172.5H328.5V193.5H308.5ZM328.5 172.5H349.5V193.5H328.5ZM349.5 172.5H369.5V193.5H349.5ZM369.5 172.5H390.5V193.5H369.5ZM390.5 172.5H410.5V193.5H390.5ZM410.5 172.5H430.5V193.5H410.5ZM430.5 172.5H451.5V193.5H430.5ZM451.5 172.5H471.5V193.5H451.5ZM471.5 172.5H492.5V193.5H471.5ZM63.5 193.5H84.5V213.5H63.5ZM84.5 193.5H104.5V213.5H84.5ZM104.5 193.5H124.5V213.5H104.5ZM124.5 193.5H145.5V213.5H124.5ZM145.5 193.5H165.5V213.5H145.5ZM165.5 193.5H186.5V213.5H165.5ZM186.5 193.5H206.5V213.5H186.5ZM206.5 193.5H226.5V213.5H206.5ZM226.5 193.5H247.5V213.5H226.5ZM247.5 193.5H267.5V213.5H247.5ZM267.5 193.5H288.5V213.5H267.5ZM288.5 193.5H308.5V213.5H288.5ZM308.5 193.5H328.5V213.5H308.5ZM328.5 193.5H349.5V213.5H328.5ZM349.5 193.5H369.5V213.5H349.5ZM369.5 193.5H390.5V213.5H369.5ZM390.5 193.5H410.5V213.5H390.5ZM410.5 193.5H430.5V213.5H410.5ZM430.5 193.5H451.5V213.5H430.5ZM451.5 193.5H471.5V213.5H451.5ZM63.5 213.5H84.5V233.5H63.5ZM84.5 213.5H104.5V233.5H84.5ZM104.5 213.5H124.5V233.5H104.5ZM124.5 213.5H145.5V233.5H124.5ZM145.5 213.5H165.5V233.5H145.5ZM165.5 213.5H186.5V233.5H165.5ZM186.5 213.5H206.5V233.5H186.5ZM206.5 213.5H226.5V233.5H206.5ZM226.5 213.5H247.5V233.5H226.5ZM247.5 213.5H267.5V233.5H247.5ZM267.5 213.5H288.5V233.5H267.5ZM288.5 213.5H308.5V233.5H288.5ZM308.5 213.5H328.5V233.5H308.5ZM328.5 213.5H349.5V233.5H328.5ZM349.5 213.5H369.5V233.5H349.5ZM369.5 213.5H390.5V233.5H369.5ZM390.5 213.5H410.5V233.5H390.5ZM410.5 213.5H430.5V233.5H410.5ZM430.5 213.5H451.5V233.5H430.5ZM43.5 233.5H63.5V254.5H43.5ZM63.5 233.5H84.5V254.5H63.5ZM84.5 233.5H104.5V254.5H84.5ZM104.5 233.5H124.5V254.5H104.5ZM124.5 233.5H145.5V254.5H124.5ZM145.5 233.5H165.5V254.5H145.5ZM165.5 233.5H186.5V254.5H165.5ZM186.5 233.5H206.5V254.5H186.5ZM206.5 233.5H226.5V254.5H206.5ZM226.5 233.5H247.5V254.5H226.5ZM247.5 233.5H267.5V254.5H247.5ZM267.5 233.5H288.5V254.5H267.5ZM288.5 233.5H308.5V254.5H288.5ZM308.5 233.5H328.5V254.5H308.5ZM328.5 233.5H349.5V254.5H328.5ZM349.5 233.5H369.5V254.5H349.5ZM369.5 233.5H390.5V254.5H369.5ZM43.5 254.5H63.5V274.5H43.5ZM63.5 254.5H84.5V274.5H63.5ZM84.5 254.5H104.5V274.5H84.5ZM104.5 254.5H124.5V274.5H104.5ZM124.5 254.5H145.5V274.5H124.5ZM145.5 254.5H165.5V274.5H145.5ZM165.5 254.5H186.5V274.5H165.5ZM186.5 254.5H206.5V274.5H186.5ZM206.5 254.5H226.5V274.5H206.5ZM226.5 254.5H247.5V274.5H226.5ZM247.5 254.5H267.5V274.5H247.5ZM267.5 254.5H288.5V274.5H267.5ZM288.5 254.5H308.5V274.5H288.5ZM308.5 254.5H328.5V274.5H308.5ZM328.5 254.5H349.5V274.5H328.5ZM349.5 254.5H369.5V274.5H349.5ZM43.5 274.5H63.5V295.5H43.5ZM63.5 274.5H84.5V295.5H63.5ZM84.5 274.5H104.5V295.5H84.5ZM104.5 274.5H124.5V295.5H104.5ZM124.5 274.5H145.5V295.5H124.5ZM145.5 274.5H165.5V295.5H145.5ZM165.5 274.5H186.5V295.5H165.5ZM186.5 274.5H206.5V295.5H186.5ZM206.5 274.5H226.5V295.5H206.5ZM226.5 274.5H247.5V295.5H226.5ZM247.5 274.5H267.5V295.5H247.5ZM267.5 274.5H288.5V295.5H267.5ZM288.5 274.5H308.5V295.5H288.5ZM308.5 274.5H328.5V295.5H308.5ZM84.5 295.5H104.5V315.5H84.5ZM104.5 295.5H124.5V315.5H104.5ZM124.5 295.5H145.5V315.5H124.5ZM145.5 295.5H165.5V315.5H145.5ZM165.5 295.5H186.5V315.5H165.5ZM186.5 295.5H206.5V315.5H186.5ZM206.5 295.5H226.5V315.5H206.5ZM226.5 295.5H247.5V315.5H226.5ZM247.5 295.5H267.5V315.5H247.5ZM267.5 295.5H288.5V315.5H267.5ZM288.5 295.5H308.5V315.5H288.5ZM104.5 315.5H124.5V335.5H104.5ZM124.5 315.5H145.5V335.5H124.5ZM145.5 315.5H165.5V335.5H145.5ZM165.5 315.5H186.5V335.5H165.5ZM186.5 315.5H206.5V335.5H186.5ZM206.5 315.5H226.5V335.5H206.5ZM226.5 315.5H247.5V335.5H226.5ZM247.5 315.5H267.5V335.5H247.5ZM267.5 315.5H288.5V335.5H267.5ZM124.5 335.5H145.5V356.5H124.5ZM145.5 335.5H165.5V356.5H145.5ZM165.5 335.5H186.5V356.5H165.5ZM186.5 335.5H206.5V356.5H186.5ZM206.5 335.5H226.5V356.5H206.5ZM226.5 335.5H247.5V356.5H226.5ZM247.5 335.5H267.5V356.5H247.5ZM267.5 335.5H288.5V356.5H267.5ZM288.5 335.5H308.5V356.5H288.5ZM145.5 356.5H165.5V376.5H145.5ZM165.5 356.5H186.5V376.5H165.5ZM186.5 356.5H206.5V376.5H186.5ZM206.5 356.5H226.5V376.5H206.5ZM226.5 356.5H247.5V376.5H226.5ZM247.5 356.5H267.5V376.5H247.5ZM267.5 356.5H288.5V376.5H267.5ZM288.5 356.5H308.5V376.5H288.5ZM308.5 356.5H328.5V376.5H308.5ZM328.5 356.5H349.5V376.5H328.5ZM165.5 376.5H186.5V397.5H165.5ZM186.5 376.5H206.5V397.5H186.5ZM206.5 376.5H226.5V397.5H206.5ZM226.5 376.5H247.5V397.5H226.5ZM247.5 376.5H267.5V397.5H247.5ZM267.5 376.5H288.5V397.5H267.5ZM288.5 376.5H308.5V397.5H288.5ZM308.5 376.5H328.5V397.5H308.5ZM328.5 376.5H349.5V397.5H328.5ZM349.5 376.5H369.5V397.5H349.5ZM186.5 397.5H206.5V417.5H186.5ZM206.5 397.5H226.5V417.5H206.5ZM226.5 397.5H247.5V417.5H226.5ZM247.5 397.5H267.5V417.5H247.5ZM267.5 397.5H288.5V417.5H267.5ZM288.5 397.5H308.5V417.5H288.5ZM308.5 397.5H328.5V417.5H308.5ZM328.5 397.5H349.5V417.5H328.5ZM349.5 397.5H369.5V417.5H349.5ZM369.5 397.5H390.5V417.5H369.5ZM206.5 417.5H226.5V438.5H206.5ZM226.5 417.5H247.5V438.5H226.5ZM247.5 417.5H267.5V438.5H247.5ZM267.5 417.5H288.5V438.5H267.5ZM288.5 417.5H308.5V438.5H288.5ZM308.5 417.5H328.5V438.5H308.5ZM328.5 417.5H349.5V438.5H328.5ZM349.5 417.5H369.5V438.5H349.5ZM369.5 417.5H390.5V438.5H369.5ZM390.5 417.5H410.5V438.5H390.5ZM410.5 417.5H430.5V438.5H410.5ZM226.5 438.5H247.5V458.5H226.5ZM247.5 438.5H267.5V458.5H247.5ZM267.5 438.5H288.5V458.5H267.5ZM288.5 438.5H308.5V458.5H288.5ZM308.5 438.5H328.5V458.5H308.5ZM328.5 438.5H349.5V458.5H328.5ZM349.5 438.5H369.5V458.5H349.5ZM369.5 438.5H390.5V458.5H369.5ZM390.5 438.5H410.5V458.5H390.5ZM410.5 438.5H430.5V458.5H410.5ZM430.5 438.5H451.5V458.5H430.5ZM247.5 458.5H267.5V478.5H247.5ZM267.5 458.5H288.5V478.5H267.5ZM288.5 458.5H308.5V478.5H288.5ZM308.5 458.5H328.5V478.5H308.5ZM328.5 458.5H349.5V478.5H328.5ZM349.5 458.5H369.5V478.5H349.5ZM369.5 458.5H390.5V478.5H369.5ZM390.5 458.5H410.5V478.5H390.5ZM410.5 458.5H430.5V478.5H410.5ZM430.5 458.5H451.5V478.5H430.5ZM451.5 458.5H471.5V478.5H451.5ZM267.5 478.5H288.5V499.5H267.5ZM288.5 478.5H308.5V499.5H288.5ZM308.5 478.5H328.5V499.5H308.5ZM328.5 478.5H349.5V499.5H328.5ZM349.5 478.5H369.5V499.5H349.5ZM369.5 478.5H390.5V499.5H369.5ZM390.5 478.5H410.5V499.5H390.5ZM410.5 478.5H430.5V499.5H410.5ZM430.5 478.5H451.5V499.5H430.5ZM451.5 478.5H471.5V499.5H451.5ZM471.5 478.5H492.5V499.5H471.5ZM492.5 478.5H512.5V499.5H492.5ZM288.5 499.5H308.5V519.5H288.5ZM308.5 499.5H328.5V519.5H308.5ZM328.5 499.5H349.5V519.5H328.5ZM349.5 499.5H369.5V519.5H349.5ZM369.5 499.5H390.5V519.5H369.5ZM390.5 499.5H410.5V519.5H390.5ZM410.5 499.5H430.5V519.5H410.5ZM430.5 499.5H451.5V519.5H430.5ZM451.5 499.5H471.5V519.5H451.5ZM471.5 499.5H492.5V519.5H471.5ZM492.5 499.5H512.5V519.5H492.5ZM512.5 499.5H532.5V519.5H512.5ZM308.5 519.5H328.5V540.5H308.5ZM328.5 519.5H349.5V540.5H328.5ZM349.5 519.5H369.5V540.5H349.5ZM369.5 519.5H390.5V540.5H369.5ZM390.5 519.5H410.5V540.5H390.5ZM410.5 519.5H430.5V540.5H410.5ZM430.5 519.5H451.5V540.5H430.5ZM451.5 519.5H471.5V540.5H451.5ZM471.5 519.5H492.5V540.5H471.5ZM492.5 519.5H512.5V540.5H492.5ZM512.5 519.5H532.5V540.5H512.5ZM308.5 540.5H328.5V560.5H308.5ZM328.5 540.5H349.5V560.5H328.5ZM349.5 540.5H369.5V560.5H349.5ZM369.5 540.5H390.5V560.5H369.5ZM390.5 540.5H410.5V560.5H390.5ZM410.5 540.5H430.5V560.5H410.5ZM430.5 540.5H451.5V560.5H430.5ZM451.5 540.5H471.5V560.5H451.5ZM471.5 540.5H492.5V560.5H471.5ZM492.5 540.5H512.5V560.5H492.5ZM512.5 540.5H532.5V560.5H512.5ZM532.5 540.5H553.5V560.5H532.5ZM328.5 560.5H349.5V580.5H328.5ZM349.5 560.5H369.5V580.5H349.5ZM369.5 560.5H390.5V580.5H369.5ZM390.5 560.5H410.5V580.5H390.5ZM410.5 560.5H430.5V580.5H410.5ZM430.5 560.5H451.5V580.5H430.5ZM451.5 560.5H471.5V580.5H451.5ZM471.5 560.5H492.5V580.5H471.5ZM492.5 560.5H512.5V580.5H492.5ZM512.5 560.5H532.5V580.5H512.5ZM532.5 560.5H553.5V580.5H532.5ZM349.5 580.5H369.5V601.5H349.5ZM369.5 580.5H390.5V601.5H369.5ZM390.5 580.5H410.5V601.5H390.5ZM410.5 580.5H430.5V601.5H410.5ZM430.5 580.5H451.5V601.5H430.5ZM451.5 580.5H471.5V601.5H451.5ZM471.5 580.5H492.5V601.5H471.5ZM492.5 580.5H512.5V601.5H492.5ZM512.5 580.5H532.5V601.5H512.5ZM532.5 580.5H553.5V601.5H532.5ZM553.5 580.5H573.5V601.5H553.5ZM369.5 601.5H390.5V621.5H369.5ZM390.5 601.5H410.5V621.5H390.5ZM410.5 601.5H430.5V621.5H410.5ZM430.5 601.5H451.5V621.5H430.5ZM451.5 601.5H471.5V621.5H451.5ZM471.5 601.5H492.5V621.5H471.5ZM492.5 601.5H512.5V621.5H492.5ZM512.5 601.5H532.5V621.5H512.5ZM532.5 601.5H553.5V621.5H532.5ZM553.5 601.5H573.5V621.5H553.5ZM573.5 601.5H594.5V621.5H573.5ZM390.5 621.5H410.5V642.5H390.5ZM410.5 621.5H430.5V642.5H410.5ZM430.5 621.5H451.5V642.5H430.5ZM451.5 621.5H471.5V642.5H451.5ZM471.5 621.5H492.5V642.5H471.5ZM492.5 621.5H512.5V642.5H492.5ZM512.5 621.5H532.5V642.5H512.5ZM532.5 621.5H553.5V642.5H532.5ZM553.5 621.5H573.5V642.5H553.5ZM573.5 621.5H594.5V642.5H573.5ZM410.5 642.5H430.5V662.5H410.5ZM430.5 642.5H451.5V662.5H430.5ZM451.5 642.5H471.5V662.5H451.5ZM471.5 642.5H492.5V662.5H471.5ZM492.5 642.5H512.5V662.5H492.5ZM512.5 642.5H532.5V662.5H512.5ZM532.5 642.5H553.5V662.5H532.5ZM553.5 642.5H573.5V662.5H553.5ZM573.5 642.5H594.5V662.5H573.5ZM451.5 662.5H471.5V682.5H451.5ZM471.5 662.5H492.5V682.5H471.5ZM492.5 662.5H512.5V682.5H492.5ZM512.5 662.5H532.5V682.5H512.5ZM532.5 662.5H553.5V682.5H532.5ZM553.5 662.5H573.5V682.5H553.5ZM573.5 662.5H594.5V682.5H573.5ZM594.5 662.5H614.5V682.5H594.5ZM492.5 682.5H512.5V703.5H492.5ZM512.5 682.5H532.5V703.5H512.5ZM532.5 682.5H553.5V703.5H532.5ZM553.5 682.5H573.5V703.5H553.5ZM573.5 682.5H594.5V703.5H573.5ZM594.5 682.5H614.5V703.5H594.5Z" fill="none" stroke="#000" stroke-width="1"/>
<path d="M662 52.5 L513 52.5" fill="none" stroke="#000" stroke-width="3" stroke-linejoin="round"/>
<path d="M513 52 L464 154 L459.3 166.7 L454.5 173.3 L446.1 176.9 L439 179.3 L430.6 185.8 L422.2 189.4 L415.1 193 L409.1 197.8 L404.3 199.6 L398.4 206.1 L390.4 211.3 L380.9 215.5 L371.3 219.7 L367.8 222.7 L363 227.5 L353.4 231.6 L343.9 235.8 L335.5 239.4 L327.2 246.6 L317.7 251 L309.3 255.7 L299.9 260.4 L292.6 267.7 L285.3 271.3 L275.9 276 L267.5 280.8 L264.4 282.8 L258.5 289.5" fill="none" stroke="#000" stroke-width="4.2" stroke-linejoin="round"/>
<path d="M258.5 289.5 L251.5 289.5 L251.5 343.5 L256 343.5" fill="none" stroke="#000" stroke-width="3" stroke-linejoin="round"/>
<path d="M256 344 L261.9 350.5 L270.3 355.3 L279.9 360.7 L287 367.2 L293 372 L300.1 377.4 L307.3 382.2 L316.9 390.5 L324 394.7 L328.8 399.5 L332.2 401.6 L342.9 410.5 L351.3 416.5 L360.8 422.5 L369.2 427.8 L375.1 432 L382.3 437.4 L389.5 444 L399 452.3 L405 457.1 L411.9 460.1 L417.9 463.7 L427.5 472.7 L434.6 477.5 L441.8 482.2 L450.1 487 L459.7 493.6 L466.9 496.6 L474 500.1 L480 503.7 L484.3 504.3 L489.1 513.9 L493.9 519.3 L498.7 525.2 L504.6 535.4 L509.4 541.3 L513 546.1 L517.8 554.5 L522.5 560.4 L528.1 565.4 L531.7 575.5 L535.9 582.1 L540.1 587.5 L543.7 595.8 L547.2 603 L550.8 607.8 L554.4 617.3 L558 623.3 L561.6 629.3 L564.3 636.2 L567.9 641.6 L571.5 647 L573.3 649.7 L575.6 656 L577.8 659.6 L581 664.1" fill="none" stroke="#000" stroke-width="4.2" stroke-linejoin="round"/>
<path d="M581 664.1 L581 687 L537 687" fill="none" stroke="#000" stroke-width="3.2" stroke-linejoin="round"/>
<path d="M537 687 L532.1 685.9 L524.9 681.1 L517.8 676.9 L510.6 669.8 L503.4 664.4 L496.3 659.6 L489.1 654.3 L481.9 647.7 L476 644.7 L470 640.5 L467.8 639.7 L460.7 635.5 L451.1 628.4 L446.3 624.2 L439.2 619.4 L430.8 626 L423.7 621.8 L415.3 616.4 L421.3 605.7 L416.5 602.1 L409.3 597.3 L402.2 593.7 L397.6 586.9 L390.4 584.5 L382.1 579.7 L373.7 574.9 L369 569 L361.8 564.8 L353.4 559.4 L343.9 553.4 L338 549 L334.3 544.5 L341.5 537.9 L347.5 533.1 L354.4 525.3" fill="none" stroke="#000" stroke-width="4.2" stroke-linejoin="round"/>
<path d="M83.5 262 L86.3 260 L93 258.9 L96.2 258.9 L100.4 261" fill="none" stroke="#000" stroke-width="2.6" stroke-linejoin="round"/>
<path d="M100.4 261 L102.2 266.3 L108.1 272.9 L115.9 280.1 L120.1 288.4 L127.2 293.2 L134.4 301 L139.2 309.3 L146.3 314.7 L152.3 319.5 L157.1 328.4 L164.3 333.8 L171.9 341.3 L182.7 350.9 L191 355.7 L199.4 361.6 L205.4 367 L212.5 375.4 L219.7 381.3 L224.5 387.3 L231.6 394.5 L237.2 401 L244.3 410.5 L251.5 417.7 L257.5 423.7 L264.6 430.2 L270.6 436.2 L277.8 443.4 L283.7 452.9 L290.9 458.9 L296.9 464.3 L302.2 473.1 L309.3 479.1 L316.5 484.5 L321.3 494 L328.4 499.4 L335.6 504.8 L340.4 513.7 L347.5 519.7 L354.4 525.3" fill="none" stroke="#000" stroke-width="4.2" stroke-linejoin="round"/>
<path d="M9 279 L16 277.6 L23 274 L28 270.2 L39 270.2 L45 273.5 L54 276 L60 276 L65 273.4 L70 269.8 L74.3 267.7 L83.5 262" fill="none" stroke="#000" stroke-width="4" stroke-linejoin="round"/>
<path d="M9 442.5 L53 442.5 L53 443.5 L83 443.5" fill="none" stroke="#000" stroke-width="3" stroke-linejoin="round"/>
<path d="M83 443.5 L198.5 584.5" fill="none" stroke="#000" stroke-width="4" stroke-linejoin="round"/>
<path d="M53 268.8 L56.5 270.8 L60 269" fill="none" stroke="#000" stroke-width="2.6" stroke-linejoin="round"/>
<path d="M198.5 584.5 L198.5 627 L197.3 627 L197.3 710 L196 710 L196 729" fill="none" stroke="#000" stroke-width="2.8" stroke-linejoin="round"/>
<path d="M56.5 250.4 L61.8 257.2 L62.8 261" fill="none" stroke="#000" stroke-width="3.2" stroke-linejoin="round"/>
<path d="M196.0 47.0L206.6 47.0M214.6 47.0L226.6 47.0M234.6 47.0L246.6 47.0M254.6 47.0L266.6 47.0M274.6 47.0L286.6 47.0M294.6 48.0L306.6 48.0M314.6 48.0L326.6 48.0M334.6 48.0L346.6 48.0M354.6 48.0L366.6 48.0M374.6 49.0L386.6 49.0M394.6 49.0L406.6 49.0M409.0 48.0L409.0 60.0M409.0 68.0L409.0 70.0M409.0 70.6L419.0 70.6M427.0 70.6L439.0 70.6M447.0 70.6L459.0 70.6M467.0 70.6L479.0 70.6M487.0 70.6L499.0 70.6M507.0 70.6L519.0 70.6M527.0 70.6L539.0 70.6M547.0 70.6L559.0 70.6M567.0 70.6L579.0 70.6M581.0 70.0L581.0 82.0M581.0 90.0L581.0 91.0M580.0 92.0L592.0 92.0M600.3 92.0L611.7 92.0M620.0 92.0L643.5 92.0M652.3 92.0L661.0 92.0M196.0 47.0L196.0 49.6M196.0 57.6L196.0 69.6M196.0 77.6L196.0 89.6M196.0 97.6L196.0 109.6M196.0 110.0L189.7 112.2M182.1 114.7L170.7 118.6M163.2 121.2L151.8 125.1M144.2 127.7L133.0 131.5M133.0 131.5L133.0 140.4M133.0 148.4L133.0 160.4M133.0 168.4L133.0 180.4M133.0 188.4L133.0 198.0M130.4 198.0L118.4 198.0M110.4 198.0L98.4 198.0M90.4 198.0L79.5 198.0M79.5 198.0L79.5 209.0M79.5 217.0L79.5 229.0M79.5 237.0L79.5 248.0M79.5 248.0L73.4 248.0M65.4 248.0L54.0 248.0" fill="none" stroke="#000" stroke-width="2"/>
<g fill="#fff">
<rect x="188" y="36" width="16" height="7"/>
<rect x="208" y="36" width="16" height="7"/>
<rect x="229" y="36" width="16" height="7"/>
<rect x="248" y="36" width="16" height="7"/>
<rect x="270" y="36" width="16" height="7"/>
<rect x="291" y="36" width="16" height="7"/>
<rect x="310" y="36" width="16" height="7"/>
<rect x="331" y="36" width="16" height="7"/>
<rect x="351" y="36" width="16" height="7"/>
<rect x="372" y="36" width="16" height="7"/>
<rect x="392" y="36" width="16" height="7"/>
<rect x="188" y="56" width="16" height="7"/>
<rect x="208" y="56" width="16" height="7"/>
<rect x="229" y="56" width="16" height="7"/>
<rect x="248" y="56" width="16" height="7"/>
<rect x="270" y="56" width="16" height="7"/>
<rect x="291" y="56" width="16" height="7"/>
<rect x="310" y="56" width="16" height="7"/>
<rect x="331" y="56" width="16" height="7"/>
<rect x="351" y="56" width="16" height="7"/>
<rect x="372" y="56" width="16" height="7"/>
<rect x="392" y="56" width="16" height="7"/>
<rect x="188" y="77" width="16" height="7"/>
<rect x="208" y="77" width="16" height="7"/>
<rect x="229" y="77" width="16" height="7"/>
<rect x="248" y="77" width="16" height="7"/>
<rect x="270" y="77" width="16" height="7"/>
<rect x="291" y="77" width="16" height="7"/>
<rect x="310" y="77" width="16" height="7"/>
<rect x="331" y="77" width="16" height="7"/>
<rect x="351" y="77" width="16" height="7"/>
<rect x="372" y="77" width="16" height="7"/>
<rect x="392" y="77" width="16" height="7"/>
<rect x="413" y="77" width="16" height="7"/>
<rect x="432" y="77" width="16" height="7"/>
<rect x="453" y="77" width="16" height="7"/>
<rect x="473" y="77" width="16" height="7"/>
<rect x="494" y="77" width="16" height="7"/>
<rect x="514" y="77" width="16" height="7"/>
<rect x="188" y="97" width="16" height="7"/>
<rect x="208" y="97" width="16" height="7"/>
<rect x="229" y="97" width="16" height="7"/>
<rect x="248" y="97" width="16" height="7"/>
<rect x="270" y="97" width="16" height="7"/>
<rect x="291" y="97" width="16" height="7"/>
<rect x="310" y="97" width="16" height="7"/>
<rect x="331" y="97" width="16" height="7"/>
<rect x="351" y="97" width="16" height="7"/>
<rect x="372" y="97" width="16" height="7"/>
<rect x="392" y="97" width="16" height="7"/>
<rect x="413" y="97" width="16" height="7"/>
<rect x="432" y="97" width="16" height="7"/>
<rect x="453" y="97" width="16" height="7"/>
<rect x="473" y="97" width="16" height="7"/>
<rect x="494" y="97" width="16" height="7"/>
<rect x="514" y="97" width="16" height="7"/>
<rect x="126" y="118" width="16" height="7"/>
<rect x="147" y="118" width="16" height="7"/>
<rect x="167" y="118" width="16" height="7"/>
<rect x="188" y="118" width="16" height="7"/>
<rect x="208" y="118" width="16" height="7"/>
<rect x="229" y="118" width="16" height="7"/>
<rect x="248" y="118" width="16" height="7"/>
<rect x="270" y="118" width="16" height="7"/>
<rect x="291" y="118" width="16" height="7"/>
<rect x="310" y="118" width="16" height="7"/>
<rect x="331" y="118" width="16" height="7"/>
<rect x="351" y="118" width="16" height="7"/>
<rect x="372" y="118" width="16" height="7"/>
<rect x="392" y="118" width="16" height="7"/>
<rect x="413" y="118" width="16" height="7"/>
<rect x="432" y="118" width="16" height="7"/>
<rect x="453" y="118" width="16" height="7"/>
<rect x="473" y="118" width="16" height="7"/>
<rect x="494" y="118" width="16" height="7"/>
<rect x="126" y="139" width="16" height="7"/>
<rect x="147" y="139" width="16" height="7"/>
<rect x="167" y="139" width="16" height="7"/>
<rect x="188" y="139" width="16" height="7"/>
<rect x="208" y="139" width="16" height="7"/>
<rect x="229" y="139" width="16" height="7"/>
<rect x="248" y="139" width="16" height="7"/>
<rect x="270" y="139" width="16" height="7"/>
<rect x="291" y="139" width="16" height="7"/>
<rect x="310" y="139" width="16" height="7"/>
<rect x="331" y="139" width="16" height="7"/>
<rect x="351" y="139" width="16" height="7"/>
<rect x="372" y="139" width="16" height="7"/>
<rect x="392" y="139" width="16" height="7"/>
<rect x="413" y="139" width="16" height="7"/>
<rect x="432" y="139" width="16" height="7"/>
<rect x="453" y="139" width="16" height="7"/>
<rect x="473" y="139" width="16" height="7"/>
<rect x="494" y="139" width="16" height="7"/>
<rect x="126" y="158" width="16" height="7"/>
<rect x="147" y="158" width="16" height="7"/>
<rect x="167" y="158" width="16" height="7"/>
<rect x="188" y="158" width="16" height="7"/>
<rect x="208" y="158" width="16" height="7"/>
<rect x="229" y="158" width="16" height="7"/>
<rect x="248" y="158" width="16" height="7"/>
<rect x="270" y="158" width="16" height="7"/>
<rect x="291" y="158" width="16" height="7"/>
<rect x="310" y="158" width="16" height="7"/>
<rect x="331" y="158" width="16" height="7"/>
<rect x="351" y="158" width="16" height="7"/>
<rect x="372" y="158" width="16" height="7"/>
<rect x="392" y="158" width="16" height="7"/>
<rect x="413" y="158" width="16" height="7"/>
<rect x="432" y="158" width="16" height="7"/>
<rect x="453" y="158" width="16" height="7"/>
<rect x="473" y="158" width="16" height="7"/>
<rect x="126" y="180" width="16" height="7"/>
<rect x="147" y="180" width="16" height="7"/>
<rect x="167" y="180" width="16" height="7"/>
<rect x="188" y="180" width="16" height="7"/>
<rect x="208" y="180" width="16" height="7"/>
<rect x="229" y="180" width="16" height="7"/>
<rect x="248" y="180" width="16" height="7"/>
<rect x="270" y="180" width="16" height="7"/>
<rect x="291" y="180" width="16" height="7"/>
<rect x="310" y="180" width="16" height="7"/>
<rect x="331" y="180" width="16" height="7"/>
<rect x="351" y="180" width="16" height="7"/>
<rect x="372" y="180" width="16" height="7"/>
<rect x="392" y="180" width="16" height="7"/>
<rect x="413" y="180" width="16" height="7"/>
<rect x="432" y="180" width="16" height="7"/>
<rect x="453" y="180" width="16" height="7"/>
<rect x="473" y="180" width="16" height="7"/>
<rect x="66" y="199" width="16" height="7"/>
<rect x="86" y="199" width="16" height="7"/>
<rect x="107" y="199" width="16" height="7"/>
<rect x="126" y="199" width="16" height="7"/>
<rect x="147" y="199" width="16" height="7"/>
<rect x="167" y="199" width="16" height="7"/>
<rect x="188" y="199" width="16" height="7"/>
<rect x="208" y="199" width="16" height="7"/>
<rect x="229" y="199" width="16" height="7"/>
<rect x="248" y="199" width="16" height="7"/>
<rect x="270" y="199" width="16" height="7"/>
<rect x="291" y="199" width="16" height="7"/>
<rect x="310" y="199" width="16" height="7"/>
<rect x="331" y="199" width="16" height="7"/>
<rect x="351" y="199" width="16" height="7"/>
<rect x="372" y="199" width="16" height="7"/>
<rect x="392" y="199" width="16" height="7"/>
<rect x="413" y="199" width="16" height="7"/>
<rect x="432" y="199" width="16" height="7"/>
<rect x="453" y="199" width="16" height="7"/>
<rect x="66" y="220" width="16" height="7"/>
<rect x="86" y="220" width="16" height="7"/>
<rect x="107" y="220" width="16" height="7"/>
<rect x="126" y="220" width="16" height="7"/>
<rect x="147" y="220" width="16" height="7"/>
<rect x="167" y="220" width="16" height="7"/>
<rect x="188" y="220" width="16" height="7"/>
<rect x="208" y="220" width="16" height="7"/>
<rect x="229" y="220" width="16" height="7"/>
<rect x="248" y="220" width="16" height="7"/>
<rect x="270" y="220" width="16" height="7"/>
<rect x="291" y="220" width="16" height="7"/>
<rect x="310" y="220" width="16" height="7"/>
<rect x="331" y="220" width="16" height="7"/>
<rect x="351" y="220" width="16" height="7"/>
<rect x="372" y="220" width="16" height="7"/>
<rect x="392" y="220" width="16" height="7"/>
<rect x="413" y="220" width="16" height="7"/>
<rect x="432" y="220" width="16" height="7"/>
<rect x="45" y="240" width="16" height="7"/>
<rect x="66" y="240" width="16" height="7"/>
<rect x="86" y="240" width="16" height="7"/>
<rect x="107" y="240" width="16" height="7"/>
<rect x="126" y="240" width="16" height="7"/>
<rect x="147" y="240" width="16" height="7"/>
<rect x="167" y="240" width="16" height="7"/>
<rect x="188" y="240" width="16" height="7"/>
<rect x="208" y="240" width="16" height="7"/>
<rect x="229" y="240" width="16" height="7"/>
<rect x="248" y="240" width="16" height="7"/>
<rect x="270" y="240" width="16" height="7"/>
<rect x="291" y="240" width="16" height="7"/>
<rect x="310" y="240" width="16" height="7"/>
<rect x="331" y="240" width="16" height="7"/>
<rect x="351" y="240" width="16" height="7"/>
<rect x="372" y="240" width="16" height="7"/>
<rect x="45" y="261" width="16" height="7"/>
<rect x="66" y="261" width="16" height="7"/>
<rect x="86" y="261" width="16" height="7"/>
<rect x="107" y="261" width="16" height="7"/>
<rect x="126" y="261" width="16" height="7"/>
<rect x="147" y="261" width="16" height="7"/>
<rect x="167" y="261" width="16" height="7"/>
<rect x="188" y="261" width="16" height="7"/>
<rect x="208" y="261" width="16" height="7"/>
<rect x="229" y="261" width="16" height="7"/>
<rect x="248" y="261" width="16" height="7"/>
<rect x="270" y="261" width="16" height="7"/>
<rect x="291" y="261" width="16" height="7"/>
<rect x="310" y="261" width="16" height="7"/>
<rect x="331" y="261" width="16" height="7"/>
<rect x="351" y="261" width="16" height="7"/>
<rect x="45" y="281" width="16" height="7"/>
<rect x="66" y="281" width="16" height="7"/>
<rect x="86" y="281" width="16" height="7"/>
<rect x="107" y="281" width="16" height="7"/>
<rect x="126" y="281" width="16" height="7"/>
<rect x="147" y="281" width="16" height="7"/>
<rect x="167" y="281" width="16" height="7"/>
<rect x="188" y="281" width="16" height="7"/>
<rect x="208" y="281" width="16" height="7"/>
<rect x="229" y="281" width="16" height="7"/>
<rect x="248" y="281" width="16" height="7"/>
<rect x="270" y="281" width="16" height="7"/>
<rect x="291" y="281" width="16" height="7"/>
<rect x="310" y="281" width="16" height="7"/>
<rect x="86" y="302" width="16" height="7"/>
<rect x="107" y="302" width="16" height="7"/>
<rect x="126" y="302" width="16" height="7"/>
<rect x="147" y="302" width="16" height="7"/>
<rect x="167" y="302" width="16" height="7"/>
<rect x="188" y="302" width="16" height="7"/>
<rect x="208" y="302" width="16" height="7"/>
<rect x="229" y="302" width="16" height="7"/>
<rect x="248" y="302" width="16" height="7"/>
<rect x="270" y="302" width="16" height="7"/>
<rect x="291" y="302" width="16" height="7"/>
<rect x="107" y="321" width="16" height="7"/>
<rect x="126" y="321" width="16" height="7"/>
<rect x="147" y="321" width="16" height="7"/>
<rect x="167" y="321" width="16" height="7"/>
<rect x="188" y="321" width="16" height="7"/>
<rect x="208" y="321" width="16" height="7"/>
<rect x="229" y="321" width="16" height="7"/>
<rect x="248" y="321" width="16" height="7"/>
<rect x="270" y="321" width="16" height="7"/>
<rect x="126" y="343" width="16" height="7"/>
<rect x="147" y="343" width="16" height="7"/>
<rect x="167" y="343" width="16" height="7"/>
<rect x="188" y="343" width="16" height="7"/>
<rect x="208" y="343" width="16" height="7"/>
<rect x="229" y="343" width="16" height="7"/>
<rect x="248" y="343" width="16" height="7"/>
<rect x="270" y="343" width="16" height="7"/>
<rect x="291" y="343" width="16" height="7"/>
<rect x="147" y="362" width="16" height="7"/>
<rect x="167" y="362" width="16" height="7"/>
<rect x="188" y="362" width="16" height="7"/>
<rect x="208" y="362" width="16" height="7"/>
<rect x="229" y="362" width="16" height="7"/>
<rect x="248" y="362" width="16" height="7"/>
<rect x="270" y="362" width="16" height="7"/>
<rect x="291" y="362" width="16" height="7"/>
<rect x="310" y="362" width="16" height="7"/>
<rect x="331" y="362" width="16" height="7"/>
<rect x="167" y="383" width="16" height="7"/>
<rect x="188" y="383" width="16" height="7"/>
<rect x="208" y="383" width="16" height="7"/>
<rect x="229" y="383" width="16" height="7"/>
<rect x="248" y="383" width="16" height="7"/>
<rect x="270" y="383" width="16" height="7"/>
<rect x="291" y="383" width="16" height="7"/>
<rect x="310" y="383" width="16" height="7"/>
<rect x="331" y="383" width="16" height="7"/>
<rect x="351" y="383" width="16" height="7"/>
<rect x="188" y="403" width="16" height="7"/>
<rect x="208" y="403" width="16" height="7"/>
<rect x="229" y="403" width="16" height="7"/>
<rect x="248" y="403" width="16" height="7"/>
<rect x="270" y="403" width="16" height="7"/>
<rect x="291" y="403" width="16" height="7"/>
<rect x="310" y="403" width="16" height="7"/>
<rect x="331" y="403" width="16" height="7"/>
<rect x="351" y="403" width="16" height="7"/>
<rect x="372" y="403" width="16" height="7"/>
<rect x="208" y="424" width="16" height="7"/>
<rect x="229" y="424" width="16" height="7"/>
<rect x="248" y="424" width="16" height="7"/>
<rect x="270" y="424" width="16" height="7"/>
<rect x="291" y="424" width="16" height="7"/>
<rect x="310" y="424" width="16" height="7"/>
<rect x="331" y="424" width="16" height="7"/>
<rect x="351" y="424" width="16" height="7"/>
<rect x="372" y="424" width="16" height="7"/>
<rect x="392" y="424" width="16" height="7"/>
<rect x="413" y="424" width="16" height="7"/>
<rect x="229" y="445" width="16" height="7"/>
<rect x="248" y="445" width="16" height="7"/>
<rect x="270" y="445" width="16" height="7"/>
<rect x="291" y="445" width="16" height="7"/>
<rect x="310" y="445" width="16" height="7"/>
<rect x="331" y="445" width="16" height="7"/>
<rect x="351" y="445" width="16" height="7"/>
<rect x="372" y="445" width="16" height="7"/>
<rect x="392" y="445" width="16" height="7"/>
<rect x="413" y="445" width="16" height="7"/>
<rect x="432" y="445" width="16" height="7"/>
<rect x="248" y="465" width="16" height="7"/>
<rect x="270" y="465" width="16" height="7"/>
<rect x="291" y="465" width="16" height="7"/>
<rect x="310" y="465" width="16" height="7"/>
<rect x="331" y="465" width="16" height="7"/>
<rect x="351" y="465" width="16" height="7"/>
<rect x="372" y="465" width="16" height="7"/>
<rect x="392" y="465" width="16" height="7"/>
<rect x="413" y="465" width="16" height="7"/>
<rect x="432" y="465" width="16" height="7"/>
<rect x="453" y="465" width="16" height="7"/>
<rect x="270" y="486" width="16" height="7"/>
<rect x="291" y="486" width="16" height="7"/>
<rect x="310" y="486" width="16" height="7"/>
<rect x="331" y="486" width="16" height="7"/>
<rect x="351" y="486" width="16" height="7"/>
<rect x="372" y="486" width="16" height="7"/>
<rect x="392" y="486" width="16" height="7"/>
<rect x="413" y="486" width="16" height="7"/>
<rect x="432" y="486" width="16" height="7"/>
<rect x="453" y="486" width="16" height="7"/>
<rect x="473" y="486" width="16" height="7"/>
<rect x="494" y="486" width="16" height="7"/>
<rect x="291" y="506" width="16" height="7"/>
<rect x="310" y="506" width="16" height="7"/>
<rect x="331" y="506" width="16" height="7"/>
<rect x="351" y="506" width="16" height="7"/>
<rect x="372" y="506" width="16" height="7"/>
<rect x="392" y="506" width="16" height="7"/>
<rect x="413" y="506" width="16" height="7"/>
<rect x="432" y="506" width="16" height="7"/>
<rect x="453" y="506" width="16" height="7"/>
<rect x="473" y="506" width="16" height="7"/>
<rect x="494" y="506" width="16" height="7"/>
<rect x="514" y="506" width="16" height="7"/>
<rect x="310" y="527" width="16" height="7"/>
<rect x="331" y="527" width="16" height="7"/>
<rect x="351" y="527" width="16" height="7"/>
<rect x="372" y="527" width="16" height="7"/>
<rect x="392" y="527" width="16" height="7"/>
<rect x="413" y="527" width="16" height="7"/>
<rect x="432" y="527" width="16" height="7"/>
<rect x="453" y="527" width="16" height="7"/>
<rect x="473" y="527" width="16" height="7"/>
<rect x="494" y="527" width="16" height="7"/>
<rect x="514" y="527" width="16" height="7"/>
<rect x="310" y="546" width="16" height="7"/>
<rect x="331" y="546" width="16" height="7"/>
<rect x="351" y="546" width="16" height="7"/>
<rect x="372" y="546" width="16" height="7"/>
<rect x="392" y="546" width="16" height="7"/>
<rect x="413" y="546" width="16" height="7"/>
<rect x="432" y="546" width="16" height="7"/>
<rect x="453" y="546" width="16" height="7"/>
<rect x="473" y="546" width="16" height="7"/>
<rect x="494" y="546" width="16" height="7"/>
<rect x="514" y="546" width="16" height="7"/>
<rect x="535" y="546" width="16" height="7"/>
<rect x="331" y="567" width="16" height="7"/>
<rect x="351" y="567" width="16" height="7"/>
<rect x="372" y="567" width="16" height="7"/>
<rect x="392" y="567" width="16" height="7"/>
<rect x="413" y="567" width="16" height="7"/>
<rect x="432" y="567" width="16" height="7"/>
<rect x="453" y="567" width="16" height="7"/>
<rect x="473" y="567" width="16" height="7"/>
<rect x="494" y="567" width="16" height="7"/>
<rect x="514" y="567" width="16" height="7"/>
<rect x="535" y="567" width="16" height="7"/>
<rect x="351" y="587" width="16" height="7"/>
<rect x="372" y="587" width="16" height="7"/>
<rect x="392" y="587" width="16" height="7"/>
<rect x="413" y="587" width="16" height="7"/>
<rect x="432" y="587" width="16" height="7"/>
<rect x="453" y="587" width="16" height="7"/>
<rect x="473" y="587" width="16" height="7"/>
<rect x="494" y="587" width="16" height="7"/>
<rect x="514" y="587" width="16" height="7"/>
<rect x="535" y="587" width="16" height="7"/>
<rect x="554" y="587" width="16" height="7"/>
<rect x="372" y="608" width="16" height="7"/>
<rect x="392" y="608" width="16" height="7"/>
<rect x="413" y="608" width="16" height="7"/>
<rect x="432" y="608" width="16" height="7"/>
<rect x="453" y="608" width="16" height="7"/>
<rect x="473" y="608" width="16" height="7"/>
<rect x="494" y="608" width="16" height="7"/>
<rect x="514" y="608" width="16" height="7"/>
<rect x="535" y="608" width="16" height="7"/>
<rect x="554" y="608" width="16" height="7"/>
<rect x="575" y="608" width="16" height="7"/>
<rect x="392" y="628" width="16" height="7"/>
<rect x="413" y="628" width="16" height="7"/>
<rect x="432" y="628" width="16" height="7"/>
<rect x="453" y="628" width="16" height="7"/>
<rect x="473" y="628" width="16" height="7"/>
<rect x="494" y="628" width="16" height="7"/>
<rect x="514" y="628" width="16" height="7"/>
<rect x="535" y="628" width="16" height="7"/>
<rect x="554" y="628" width="16" height="7"/>
<rect x="575" y="628" width="16" height="7"/>
<rect x="413" y="649" width="16" height="7"/>
<rect x="432" y="649" width="16" height="7"/>
<rect x="453" y="649" width="16" height="7"/>
<rect x="473" y="649" width="16" height="7"/>
<rect x="494" y="649" width="16" height="7"/>
<rect x="514" y="649" width="16" height="7"/>
<rect x="535" y="649" width="16" height="7"/>
<rect x="554" y="649" width="16" height="7"/>
<rect x="575" y="649" width="16" height="7"/>
<rect x="453" y="669" width="16" height="7"/>
<rect x="473" y="669" width="16" height="7"/>
<rect x="494" y="669" width="16" height="7"/>
<rect x="514" y="669" width="16" height="7"/>
<rect x="535" y="669" width="16" height="7"/>
<rect x="554" y="669" width="16" height="7"/>
<rect x="575" y="669" width="16" height="7"/>
<rect x="594" y="669" width="16" height="7"/>
<rect x="494" y="690" width="16" height="7"/>
<rect x="514" y="690" width="16" height="7"/>
<rect x="535" y="690" width="16" height="7"/>
<rect x="554" y="690" width="16" height="7"/>
<rect x="575" y="690" width="16" height="7"/>
<rect x="594" y="690" width="16" height="7"/>
</g>
<g font-family="Liberation Sans, Arial, sans-serif" font-size="7.3" text-anchor="middle" fill="#000" filter="url(#crisp)">
<text x="196" y="42">3405</text>
<text x="216" y="42">3505</text>
<text x="237" y="42">3605</text>
<text x="256" y="42">3705</text>
<text x="278" y="42">3805</text>
<text x="299" y="42">3905</text>
<text x="318" y="42">4005</text>
<text x="339" y="42">4105</text>
<text x="359" y="42">4205</text>
<text x="380" y="42">4305</text>
<text x="400" y="42">4405</text>
<text x="196" y="62">3404</text>
<text x="216" y="62">3504</text>
<text x="237" y="62">3604</text>
<text x="256" y="62">3704</text>
<text x="278" y="62">3804</text>
<text x="299" y="62">3904</text>
<text x="318" y="62">4004</text>
<text x="339" y="62">4104</text>
<text x="359" y="62">4204</text>
<text x="380" y="62">4304</text>
<text x="400" y="62">4404</text>
<text x="196" y="83">3403</text>
<text x="216" y="83">3503</text>
<text x="237" y="83">3603</text>
<text x="256" y="83">3703</text>
<text x="278" y="83">3803</text>
<text x="299" y="83">3903</text>
<text x="318" y="83">4003</text>
<text x="339" y="83">4103</text>
<text x="359" y="83">4203</text>
<text x="380" y="83">4303</text>
<text x="400" y="83">4403</text>
<text x="421" y="83">4503</text>
<text x="440" y="83">4603</text>
<text x="461" y="83">4703</text>
<text x="481" y="83">4803</text>
<text x="502" y="83">4903</text>
<text x="522" y="83">5003</text>
<text x="196" y="103">3402</text>
<text x="216" y="103">3502</text>
<text x="237" y="103">3602</text>
<text x="256" y="103">3702</text>
<text x="278" y="103">3802</text>
<text x="299" y="103">3902</text>
<text x="318" y="103">4002</text>
<text x="339" y="103">4102</text>
<text x="359" y="103">4202</text>
<text x="380" y="103">4302</text>
<text x="400" y="103">4402</text>
<text x="421" y="103">4502</text>
<text x="440" y="103">4602</text>
<text x="461" y="103">4702</text>
<text x="481" y="103">4802</text>
<text x="502" y="103">4902</text>
<text x="522" y="103">5002</text>
<text x="134" y="124">3101</text>
<text x="155" y="124">3201</text>
<text x="175" y="124">3301</text>
<text x="196" y="124">3401</text>
<text x="216" y="124">3501</text>
<text x="237" y="124">3601</text>
<text x="256" y="124">3701</text>
<text x="278" y="124">3801</text>
<text x="299" y="124">3901</text>
<text x="318" y="124">4001</text>
<text x="339" y="124">4101</text>
<text x="359" y="124">4201</text>
<text x="380" y="124">4301</text>
<text x="400" y="124">4401</text>
<text x="421" y="124">4501</text>
<text x="440" y="124">4601</text>
<text x="461" y="124">4701</text>
<text x="481" y="124">4801</text>
<text x="502" y="124">4901</text>
<text x="134" y="145">3100</text>
<text x="155" y="145">3200</text>
<text x="175" y="145">3300</text>
<text x="196" y="145">3400</text>
<text x="216" y="145">3500</text>
<text x="237" y="145">3600</text>
<text x="256" y="145">3700</text>
<text x="278" y="145">3800</text>
<text x="299" y="145">3900</text>
<text x="318" y="145">4000</text>
<text x="339" y="145">4100</text>
<text x="359" y="145">4200</text>
<text x="380" y="145">4300</text>
<text x="400" y="145">4400</text>
<text x="421" y="145">4500</text>
<text x="440" y="145">4600</text>
<text x="461" y="145">4700</text>
<text x="481" y="145">4800</text>
<text x="502" y="145">4900</text>
<text x="134" y="164">3199</text>
<text x="155" y="164">3299</text>
<text x="175" y="164">3399</text>
<text x="196" y="164">3499</text>
<text x="216" y="164">3599</text>
<text x="237" y="164">3699</text>
<text x="256" y="164">3799</text>
<text x="278" y="164">3899</text>
<text x="299" y="164">3999</text>
<text x="318" y="164">4099</text>
<text x="339" y="164">4199</text>
<text x="359" y="164">4299</text>
<text x="380" y="164">4399</text>
<text x="400" y="164">4499</text>
<text x="421" y="164">4599</text>
<text x="440" y="164">4699</text>
<text x="461" y="164">4799</text>
<text x="481" y="164">4899</text>
<text x="134" y="186">3198</text>
<text x="155" y="186">3298</text>
<text x="175" y="186">3398</text>
<text x="196" y="186">3498</text>
<text x="216" y="186">3598</text>
<text x="237" y="186">3698</text>
<text x="256" y="186">3798</text>
<text x="278" y="186">3898</text>
<text x="299" y="186">3998</text>
<text x="318" y="186">4098</text>
<text x="339" y="186">4198</text>
<text x="359" y="186">4298</text>
<text x="380" y="186">4398</text>
<text x="400" y="186">4498</text>
<text x="421" y="186">4598</text>
<text x="440" y="186">4698</text>
<text x="461" y="186">4798</text>
<text x="481" y="186">4898</text>
<text x="74" y="205">2897</text>
<text x="94" y="205">2997</text>
<text x="115" y="205">3097</text>
<text x="134" y="205">3197</text>
<text x="155" y="205">3297</text>
<text x="175" y="205">3397</text>
<text x="196" y="205">3497</text>
<text x="216" y="205">3597</text>
<text x="237" y="205">3697</text>
<text x="256" y="205">3797</text>
<text x="278" y="205">3897</text>
<text x="299" y="205">3997</text>
<text x="318" y="205">4097</text>
<text x="339" y="205">4197</text>
<text x="359" y="205">4297</text>
<text x="380" y="205">4397</text>
<text x="400" y="205">4497</text>
<text x="421" y="205">4597</text>
<text x="440" y="205">4697</text>
<text x="461" y="205">4797</text>
<text x="74" y="226">2896</text>
<text x="94" y="226">2996</text>
<text x="115" y="226">3096</text>
<text x="134" y="226">3196</text>
<text x="155" y="226">3296</text>
<text x="175" y="226">3396</text>
<text x="196" y="226">3496</text>
<text x="216" y="226">3596</text>
<text x="237" y="226">3696</text>
<text x="256" y="226">3796</text>
<text x="278" y="226">3896</text>
<text x="299" y="226">3996</text>
<text x="318" y="226">4096</text>
<text x="339" y="226">4196</text>
<text x="359" y="226">4296</text>
<text x="380" y="226">4396</text>
<text x="400" y="226">4496</text>
<text x="421" y="226">4596</text>
<text x="440" y="226">4696</text>
<text x="53" y="246">2795</text>
<text x="74" y="246">2895</text>
<text x="94" y="246">2995</text>
<text x="115" y="246">3095</text>
<text x="134" y="246">3195</text>
<text x="155" y="246">3295</text>
<text x="175" y="246">3395</text>
<text x="196" y="246">3495</text>
<text x="216" y="246">3595</text>
<text x="237" y="246">3695</text>
<text x="256" y="246">3795</text>
<text x="278" y="246">3895</text>
<text x="299" y="246">3995</text>
<text x="318" y="246">4095</text>
<text x="339" y="246">4195</text>
<text x="359" y="246">4295</text>
<text x="380" y="246">4395</text>
<text x="53" y="267">2794</text>
<text x="74" y="267">2894</text>
<text x="94" y="267">2994</text>
<text x="115" y="267">3094</text>
<text x="134" y="267">3194</text>
<text x="155" y="267">3294</text>
<text x="175" y="267">3394</text>
<text x="196" y="267">3494</text>
<text x="216" y="267">3594</text>
<text x="237" y="267">3694</text>
<text x="256" y="267">3794</text>
<text x="278" y="267">3894</text>
<text x="299" y="267">3994</text>
<text x="318" y="267">4094</text>
<text x="339" y="267">4194</text>
<text x="359" y="267">4294</text>
<text x="53" y="287">2793</text>
<text x="74" y="287">2893</text>
<text x="94" y="287">2993</text>
<text x="115" y="287">3093</text>
<text x="134" y="287">3193</text>
<text x="155" y="287">3293</text>
<text x="175" y="287">3393</text>
<text x="196" y="287">3493</text>
<text x="216" y="287">3593</text>
<text x="237" y="287">3693</text>
<text x="256" y="287">3793</text>
<text x="278" y="287">3893</text>
<text x="299" y="287">3993</text>
<text x="318" y="287">4093</text>
<text x="94" y="308">2992</text>
<text x="115" y="308">3092</text>
<text x="134" y="308">3192</text>
<text x="155" y="308">3292</text>
<text x="175" y="308">3392</text>
<text x="196" y="308">3492</text>
<text x="216" y="308">3592</text>
<text x="237" y="308">3692</text>
<text x="256" y="308">3792</text>
<text x="278" y="308">3892</text>
<text x="299" y="308">3992</text>
<text x="115" y="327">3091</text>
<text x="134" y="327">3191</text>
<text x="155" y="327">3291</text>
<text x="175" y="327">3391</text>
<text x="196" y="327">3491</text>
<text x="216" y="327">3591</text>
<text x="237" y="327">3691</text>
<text x="256" y="327">3791</text>
<text x="278" y="327">3891</text>
<text x="134" y="349">3190</text>
<text x="155" y="349">3290</text>
<text x="175" y="349">3390</text>
<text x="196" y="349">3490</text>
<text x="216" y="349">3590</text>
<text x="237" y="349">3690</text>
<text x="256" y="349">3790</text>
<text x="278" y="349">3890</text>
<text x="299" y="349">3990</text>
<text x="155" y="368">3289</text>
<text x="175" y="368">3389</text>
<text x="196" y="368">3489</text>
<text x="216" y="368">3589</text>
<text x="237" y="368">3689</text>
<text x="256" y="368">3789</text>
<text x="278" y="368">3889</text>
<text x="299" y="368">3989</text>
<text x="318" y="368">4089</text>
<text x="339" y="368">4189</text>
<text x="175" y="389">3388</text>
<text x="196" y="389">3488</text>
<text x="216" y="389">3588</text>
<text x="237" y="389">3688</text>
<text x="256" y="389">3788</text>
<text x="278" y="389">3888</text>
<text x="299" y="389">3988</text>
<text x="318" y="389">4088</text>
<text x="339" y="389">4188</text>
<text x="359" y="389">4288</text>
<text x="196" y="409">3487</text>
<text x="216" y="409">3587</text>
<text x="237" y="409">3687</text>
<text x="256" y="409">3787</text>
<text x="278" y="409">3887</text>
<text x="299" y="409">3987</text>
<text x="318" y="409">4087</text>
<text x="339" y="409">4187</text>
<text x="359" y="409">4287</text>
<text x="380" y="409">4387</text>
<text x="216" y="430">3586</text>
<text x="237" y="430">3686</text>
<text x="256" y="430">3786</text>
<text x="278" y="430">3886</text>
<text x="299" y="430">3986</text>
<text x="318" y="430">4086</text>
<text x="339" y="430">4186</text>
<text x="359" y="430">4286</text>
<text x="380" y="430">4386</text>
<text x="400" y="430">4486</text>
<text x="421" y="430">4586</text>
<text x="237" y="451">3685</text>
<text x="256" y="451">3785</text>
<text x="278" y="451">3885</text>
<text x="299" y="451">3985</text>
<text x="318" y="451">4085</text>
<text x="339" y="451">4185</text>
<text x="359" y="451">4285</text>
<text x="380" y="451">4385</text>
<text x="400" y="451">4485</text>
<text x="421" y="451">4585</text>
<text x="440" y="451">4685</text>
<text x="256" y="471">3784</text>
<text x="278" y="471">3884</text>
<text x="299" y="471">3984</text>
<text x="318" y="471">4084</text>
<text x="339" y="471">4184</text>
<text x="359" y="471">4284</text>
<text x="380" y="471">4384</text>
<text x="400" y="471">4484</text>
<text x="421" y="471">4584</text>
<text x="440" y="471">4684</text>
<text x="461" y="471">4784</text>
<text x="278" y="492">3883</text>
<text x="299" y="492">3983</text>
<text x="318" y="492">4083</text>
<text x="339" y="492">4183</text>
<text x="359" y="492">4283</text>
<text x="380" y="492">4383</text>
<text x="400" y="492">4483</text>
<text x="421" y="492">4583</text>
<text x="440" y="492">4683</text>
<text x="461" y="492">4783</text>
<text x="481" y="492">4883</text>
<text x="502" y="492">4983</text>
<text x="299" y="512">3982</text>
<text x="318" y="512">4082</text>
<text x="339" y="512">4182</text>
<text x="359" y="512">4282</text>
<text x="380" y="512">4382</text>
<text x="400" y="512">4482</text>
<text x="421" y="512">4582</text>
<text x="440" y="512">4682</text>
<text x="461" y="512">4782</text>
<text x="481" y="512">4882</text>
<text x="502" y="512">4982</text>
<text x="522" y="512">5082</text>
<text x="318" y="533">4081</text>
<text x="339" y="533">4181</text>
<text x="359" y="533">4281</text>
<text x="380" y="533">4381</text>
<text x="400" y="533">4481</text>
<text x="421" y="533">4581</text>
<text x="440" y="533">4681</text>
<text x="461" y="533">4781</text>
<text x="481" y="533">4881</text>
<text x="502" y="533">4981</text>
<text x="522" y="533">5081</text>
<text x="318" y="552">4080</text>
<text x="339" y="552">4180</text>
<text x="359" y="552">4280</text>
<text x="380" y="552">4380</text>
<text x="400" y="552">4480</text>
<text x="421" y="552">4580</text>
<text x="440" y="552">4680</text>
<text x="461" y="552">4780</text>
<text x="481" y="552">4880</text>
<text x="502" y="552">4980</text>
<text x="522" y="552">5080</text>
<text x="543" y="552">5180</text>
<text x="339" y="573">4179</text>
<text x="359" y="573">4279</text>
<text x="380" y="573">4379</text>
<text x="400" y="573">4479</text>
<text x="421" y="573">4579</text>
<text x="440" y="573">4679</text>
<text x="461" y="573">4779</text>
<text x="481" y="573">4879</text>
<text x="502" y="573">4979</text>
<text x="522" y="573">5079</text>
<text x="543" y="573">5179</text>
<text x="359" y="593">4278</text>
<text x="380" y="593">4378</text>
<text x="400" y="593">4478</text>
<text x="421" y="593">4578</text>
<text x="440" y="593">4678</text>
<text x="461" y="593">4778</text>
<text x="481" y="593">4878</text>
<text x="502" y="593">4978</text>
<text x="522" y="593">5078</text>
<text x="543" y="593">5178</text>
<text x="562" y="593">5278</text>
<text x="380" y="614">4377</text>
<text x="400" y="614">4477</text>
<text x="421" y="614">4577</text>
<text x="440" y="614">4677</text>
<text x="461" y="614">4777</text>
<text x="481" y="614">4877</text>
<text x="502" y="614">4977</text>
<text x="522" y="614">5077</text>
<text x="543" y="614">5177</text>
<text x="562" y="614">5277</text>
<text x="583" y="614">5377</text>
<text x="400" y="634">4476</text>
<text x="421" y="634">4576</text>
<text x="440" y="634">4676</text>
<text x="461" y="634">4776</text>
<text x="481" y="634">4876</text>
<text x="502" y="634">4976</text>
<text x="522" y="634">5076</text>
<text x="543" y="634">5176</text>
<text x="562" y="634">5276</text>
<text x="583" y="634">5376</text>
<text x="421" y="655">4575</text>
<text x="440" y="655">4675</text>
<text x="461" y="655">4775</text>
<text x="481" y="655">4875</text>
<text x="502" y="655">4975</text>
<text x="522" y="655">5075</text>
<text x="543" y="655">5175</text>
<text x="562" y="655">5275</text>
<text x="583" y="655">5375</text>
<text x="461" y="675">4774</text>
<text x="481" y="675">4874</text>
<text x="502" y="675">4974</text>
<text x="522" y="675">5074</text>
<text x="543" y="675">5174</text>
<text x="562" y="675">5274</text>
<text x="583" y="675">5374</text>
<text x="602" y="675">5474</text>
<text x="502" y="696">4973</text>
<text x="522" y="696">5073</text>
<text x="543" y="696">5173</text>
<text x="562" y="696">5273</text>
<text x="583" y="696">5373</text>
<text x="602" y="696">5473</text>
</g>
<g font-family="Liberation Serif, Times New Roman, serif" fill="#000">
<text x="460" y="271.5" font-size="13" textLength="152.6" lengthAdjust="spacingAndGlyphs">Note: No traps were serviced</text>
<text x="491.5" y="285.6" font-size="13" textLength="84.2" lengthAdjust="spacingAndGlyphs">on 4/1 - holiday.</text>
<line x1="379" y1="311" x2="447" y2="311" stroke="#000" stroke-width="3"/>
<text x="455.1" y="315" font-size="14.6" textLength="174.1" lengthAdjust="spacingAndGlyphs">RELEASE AREA BOUNDARY</text>
<path d="M376 332.5H387.5M395.7 332.5H407M416 332.5H427M435 332.5H447" stroke="#000" stroke-width="3"/>
<text x="456.2" y="336.3" font-size="14.6" textLength="90.2" lengthAdjust="spacingAndGlyphs">COUNTY LINE</text>
<rect x="423.5" y="353.5" width="20.5" height="20" fill="url(#hatch)" stroke="#000"/>
<text x="457.2" y="360.7" font-size="14.2" textLength="135" lengthAdjust="spacingAndGlyphs">NO AVAILABLE HOST</text>
<text x="457.8" y="375.9" font-size="14.2" textLength="94.1" lengthAdjust="spacingAndGlyphs">YEAR - ROUND</text>
</g>
<rect x="9.5" y="738.5" width="192" height="119" fill="#fff" stroke="#000"/>
<path d="M9.5 777 L14 778.5 L16.2 780 L18.4 777.8 L22.9 776.6 L39.3 776.3 L45.3 777 L51.3 785.3 L54.3 789.7 L57.3 798.7 L58.7 805.4 L55 809.1 L56.5 814.4 L64 816.6 L69.2 818.8 L72 814 L76.7 812.5 L85.6 814 L90.8 817 L96 822.6 L100 825.5 L109 831.5 L119.4 837.5 L128.4 848 L142.5 857 L9.5 857Z" fill="#00ffff"/>
<path d="M51.3 739.3 L58 746.4 L67.7 747.2 L76.7 751.7 L82.6 755.4 L91.6 758.4 L100.5 760.6 L104.5 761.4 L120 761.3 L137.9 761.3 L157 760.5 L164.2 753.6 L185.7 764.9 L189.3 777.5 L172.5 778.1 L168.9 788.2 L151 798.4 L150.4 804.9 L171.3 818.1 L179.7 831.2 L180.9 833.6 L176.1 833.6 L165.4 827.6 L159.4 822.8 L158.2 820.4 L152.2 812.1 L136.7 797.2 L127.8 797.8 L125.4 801.3 L125.4 812.1 L135.5 812.7 L146.3 825.2 L146.9 840 L144 843.5 L142.5 856.5 L128.4 848 L119.4 837.5 L109 831.5 L100 825.5 L96 822.6 L90.8 815.1 L85.6 812.1 L76.7 809.1 L69.2 808.4 L69.2 818.8 L64 816.6 L56.5 814.4 L55 809.1 L58.7 805.4 L57.3 798.7 L54.3 789.7 L61 788.2 L51.3 785.3 L45.3 777 L39.3 776.3 L42.3 773.3 L46.1 775.6 L47.6 771.8 L49.8 769.6 L46.8 765.1 L28.9 764.4 L30.4 753.9 L32.6 749.4 L40.1 746.4 L42.3 742Z" fill="#fff"/>
<path d="M146.3 777.7 L165.4 777.7 L172.5 778.7 L168.9 788.2 L151 798.4 L150.4 804.9 L171.3 818.1 L179.7 831.2 L180.9 833.6 L176.1 833.6 L165.4 827.6 L159.4 822.8 L158.2 820.4 L152.2 812.1 L136.7 797.2 L136.7 791.2 L140.3 791.2 L140.3 785.2 L145.7 784.6Z" fill="#666"/>
<path d="M51.3 739.3 L58 746.4 L67.7 747.2 L76.7 751.7 L82.6 755.4 L91.6 758.4 L100.5 760.6 L104.5 761.4 L120 761.3 L137.9 761.3 L157 760.5 L164.2 753.6 L185.7 764.9 L189.3 777.5 L172.5 778.1 L168.9 788.2 L151 798.4 L150.4 804.9 L171.3 818.1 L179.7 831.2 L180.9 833.6 L176.1 833.6 L165.4 827.6 L159.4 822.8 L158.2 820.4 L152.2 812.1 L136.7 797.2 L127.8 797.8 L125.4 801.3 L125.4 812.1 L135.5 812.7 L146.3 825.2 L146.9 840 L144 843.5 L142.5 856.5 L128.4 848 L119.4 837.5 L109 831.5 L100 825.5 L96 822.6 L90.8 815.1 L85.6 812.1 L76.7 809.1 L69.2 808.4 L69.2 818.8 L64 816.6 L56.5 814.4 L55 809.1 L58.7 805.4 L57.3 798.7 L54.3 789.7 L61 788.2 L51.3 785.3 L45.3 777 L39.3 776.3 L42.3 773.3 L46.1 775.6 L47.6 771.8 L49.8 769.6 L46.8 765.1 L28.9 764.4 L30.4 753.9 L32.6 749.4 L40.1 746.4 L42.3 742Z" fill="none" stroke="#000" stroke-width="2.2" stroke-linejoin="round"/>
<g font-family="Liberation Serif, Times New Roman, serif" fill="#000">
<text x="130" y="748.7" font-size="9.5" font-weight="bold" text-anchor="middle" textLength="100.2" lengthAdjust="spacingAndGlyphs">PREVENTIVE RELEASE</text>
<text x="124" y="757" font-size="9.5" font-weight="bold" text-anchor="middle" textLength="24.7" lengthAdjust="spacingAndGlyphs">AREA</text>
<text x="100.5" y="874" font-size="14.2" text-anchor="middle" textLength="96.4" lengthAdjust="spacingAndGlyphs">AREA MAPPED</text>
<text x="206.6" y="757.6" font-size="22" textLength="262.9" lengthAdjust="spacingAndGlyphs">Medfly Preventive Release</text>
<text x="235.2" y="780" font-size="22" textLength="198.8" lengthAdjust="spacingAndGlyphs">Sterile Fly Recovery</text>
<text x="235.2" y="800.2" font-size="19.5" textLength="192" lengthAdjust="spacingAndGlyphs">Riverside County Area</text>
<text x="205.4" y="825.5" font-size="19" textLength="263.4" lengthAdjust="spacingAndGlyphs" xml:space="preserve">Cycle 123    03/25/02 - 04/04/02</text>
<text x="223" y="849.5" font-size="10.6" textLength="228" lengthAdjust="spacingAndGlyphs">NOTE: UNSHADED GRIDS EITHER HAVE NO</text>
<text x="216.8" y="861.6" font-size="10.6" textLength="254.8" lengthAdjust="spacingAndGlyphs">SEASONALLY AVAILABLE HOST, OR THE TRAPS</text>
<text x="252.6" y="872" font-size="10.6" textLength="183.5" lengthAdjust="spacingAndGlyphs">WERE NOT SERVICED THIS WEEK.</text>
</g>
<rect x="469.5" y="739.5" width="190" height="113.5" fill="none" stroke="#000"/>
<g font-family="Liberation Sans, Arial, sans-serif" font-size="12.2">
<text x="481.2" y="754.6" fill="#ff0000" textLength="164.4" lengthAdjust="spacingAndGlyphs">AVERAGE NUMBER OF FLIES</text>
<text x="481.2" y="768.6" fill="#ff0000" textLength="168.8" lengthAdjust="spacingAndGlyphs">CAUGHT PER TRAP, PER DAY</text>
<rect x="500.5" y="780.5" width="11" height="10.5" fill="#ff0000" stroke="#000"/>
<rect x="500.5" y="794.5" width="11" height="10.5" fill="#ffff00" stroke="#000"/>
<rect x="500.5" y="809" width="11" height="10.5" fill="#55ffff" stroke="#000"/>
<rect x="500.5" y="823.2" width="11" height="10.5" fill="#00ff00" stroke="#000"/>
<g fill="#0000ff">
<text x="521.7" y="791" textLength="73.2" lengthAdjust="spacingAndGlyphs">LESS THAN 1</text><text x="609.8" y="791" textLength="20.2" lengthAdjust="spacingAndGlyphs">(11)</text>
<text x="521.7" y="804.6" textLength="70.2" lengthAdjust="spacingAndGlyphs">&gt;= 1 AND &lt; 2</text><text x="615.7" y="804.6" textLength="13.5" lengthAdjust="spacingAndGlyphs">(8)</text>
<text x="521.7" y="818.3" textLength="70.9" lengthAdjust="spacingAndGlyphs">&gt;= 2 AND &lt; 3</text><text x="609.8" y="818.3" textLength="20.2" lengthAdjust="spacingAndGlyphs">(14)</text>
<text x="521.7" y="832.9" textLength="64.2" lengthAdjust="spacingAndGlyphs">3 OR MORE</text><text x="603.8" y="832.9" textLength="26.9" lengthAdjust="spacingAndGlyphs">(134)</text>
</g></g>
</svg>
</body></html>
